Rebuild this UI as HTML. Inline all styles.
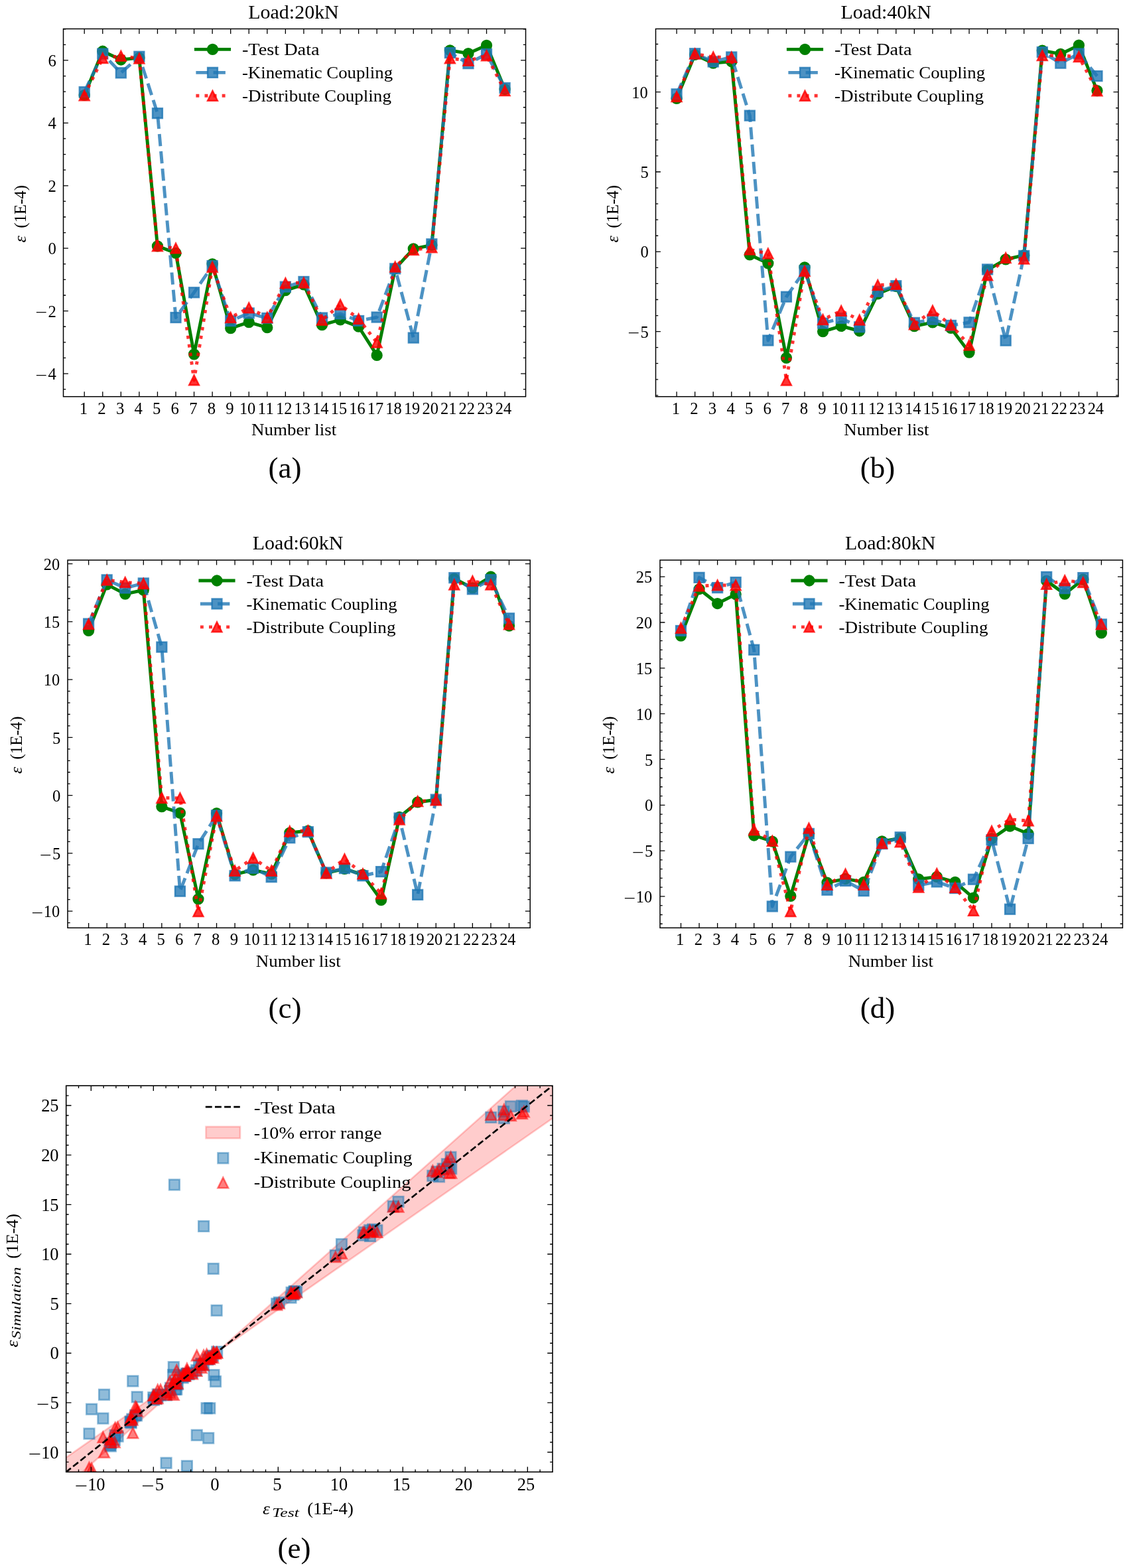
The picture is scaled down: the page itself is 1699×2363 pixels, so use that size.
<!DOCTYPE html>
<html lang="en">
<head>
<meta charset="utf-8">
<title>Strain comparison: test data vs kinematic and distribute coupling</title>
<style>html,body{margin:0;padding:0;background:#fff}body{width:1699px;height:2363px;overflow:hidden}svg{display:block}text{white-space:pre}</style>
</head>
<body>
<svg width="1699" height="2363" viewBox="0 0 1699 2363" font-family='"Liberation Serif", "DejaVu Serif", serif' font-size="24.7">
<rect width="1699" height="2363" fill="#fff"/>
<g id="chart-a">
<clipPath id="clip-a"><rect x="95.5" y="43.5" width="697" height="554.2"/></clipPath>
<g clip-path="url(#clip-a)">
<path d="M127.2 143.34L154.76 77.25L182.32 90L209.88 87.16L237.44 370.9L265 381.28L292.56 533.77L320.12 397.81L347.68 494.59L375.24 485.62L402.8 493.64L430.36 437.7L457.92 428.96L485.48 489.63L513.04 481.84L540.6 492.23L568.16 535.42L595.72 404.89L623.28 374.91L650.84 369.48L678.4 75.83L705.96 80.55L733.52 68.28L761.08 134.37" fill="none" stroke="#008000" stroke-width="4.94" stroke-linejoin="round" stroke-linecap="square"/>
<circle cx="127.2" cy="143.34" r="7.4" fill="#008000" stroke="#008000" stroke-width="2.47"/>
<circle cx="154.76" cy="77.25" r="7.4" fill="#008000" stroke="#008000" stroke-width="2.47"/>
<circle cx="182.32" cy="90" r="7.4" fill="#008000" stroke="#008000" stroke-width="2.47"/>
<circle cx="209.88" cy="87.16" r="7.4" fill="#008000" stroke="#008000" stroke-width="2.47"/>
<circle cx="237.44" cy="370.9" r="7.4" fill="#008000" stroke="#008000" stroke-width="2.47"/>
<circle cx="265" cy="381.28" r="7.4" fill="#008000" stroke="#008000" stroke-width="2.47"/>
<circle cx="292.56" cy="533.77" r="7.4" fill="#008000" stroke="#008000" stroke-width="2.47"/>
<circle cx="320.12" cy="397.81" r="7.4" fill="#008000" stroke="#008000" stroke-width="2.47"/>
<circle cx="347.68" cy="494.59" r="7.4" fill="#008000" stroke="#008000" stroke-width="2.47"/>
<circle cx="375.24" cy="485.62" r="7.4" fill="#008000" stroke="#008000" stroke-width="2.47"/>
<circle cx="402.8" cy="493.64" r="7.4" fill="#008000" stroke="#008000" stroke-width="2.47"/>
<circle cx="430.36" cy="437.7" r="7.4" fill="#008000" stroke="#008000" stroke-width="2.47"/>
<circle cx="457.92" cy="428.96" r="7.4" fill="#008000" stroke="#008000" stroke-width="2.47"/>
<circle cx="485.48" cy="489.63" r="7.4" fill="#008000" stroke="#008000" stroke-width="2.47"/>
<circle cx="513.04" cy="481.84" r="7.4" fill="#008000" stroke="#008000" stroke-width="2.47"/>
<circle cx="540.6" cy="492.23" r="7.4" fill="#008000" stroke="#008000" stroke-width="2.47"/>
<circle cx="568.16" cy="535.42" r="7.4" fill="#008000" stroke="#008000" stroke-width="2.47"/>
<circle cx="595.72" cy="404.89" r="7.4" fill="#008000" stroke="#008000" stroke-width="2.47"/>
<circle cx="623.28" cy="374.91" r="7.4" fill="#008000" stroke="#008000" stroke-width="2.47"/>
<circle cx="650.84" cy="369.48" r="7.4" fill="#008000" stroke="#008000" stroke-width="2.47"/>
<circle cx="678.4" cy="75.83" r="7.4" fill="#008000" stroke="#008000" stroke-width="2.47"/>
<circle cx="705.96" cy="80.55" r="7.4" fill="#008000" stroke="#008000" stroke-width="2.47"/>
<circle cx="733.52" cy="68.28" r="7.4" fill="#008000" stroke="#008000" stroke-width="2.47"/>
<circle cx="761.08" cy="134.37" r="7.4" fill="#008000" stroke="#008000" stroke-width="2.47"/>
<path d="M127.2 138.62L154.76 81.03L182.32 109.82L209.88 85.27L237.44 170.72L265 478.53L292.56 440.77L320.12 400.64L347.68 483.73L375.24 471.92L402.8 479.48L430.36 432.27L457.92 424.48L485.48 479.01L513.04 472.87L540.6 483.49L568.16 478.06L595.72 404.89L623.28 509.08L650.84 367.83L678.4 79.61L705.96 95.66L733.52 81.5L761.08 132.48" fill="none" stroke="#1f77b4" stroke-width="4.94" stroke-linejoin="round" stroke-dasharray="18.28 7.9" stroke-opacity="0.8"/>
<rect x="119.8" y="131.22" width="14.8" height="14.8" fill="#1f77b4" stroke="#1f77b4" stroke-width="2.47" fill-opacity="0.8" stroke-opacity="0.8"/>
<rect x="147.36" y="73.63" width="14.8" height="14.8" fill="#1f77b4" stroke="#1f77b4" stroke-width="2.47" fill-opacity="0.8" stroke-opacity="0.8"/>
<rect x="174.92" y="102.42" width="14.8" height="14.8" fill="#1f77b4" stroke="#1f77b4" stroke-width="2.47" fill-opacity="0.8" stroke-opacity="0.8"/>
<rect x="202.48" y="77.87" width="14.8" height="14.8" fill="#1f77b4" stroke="#1f77b4" stroke-width="2.47" fill-opacity="0.8" stroke-opacity="0.8"/>
<rect x="230.04" y="163.32" width="14.8" height="14.8" fill="#1f77b4" stroke="#1f77b4" stroke-width="2.47" fill-opacity="0.8" stroke-opacity="0.8"/>
<rect x="257.6" y="471.13" width="14.8" height="14.8" fill="#1f77b4" stroke="#1f77b4" stroke-width="2.47" fill-opacity="0.8" stroke-opacity="0.8"/>
<rect x="285.16" y="433.37" width="14.8" height="14.8" fill="#1f77b4" stroke="#1f77b4" stroke-width="2.47" fill-opacity="0.8" stroke-opacity="0.8"/>
<rect x="312.72" y="393.24" width="14.8" height="14.8" fill="#1f77b4" stroke="#1f77b4" stroke-width="2.47" fill-opacity="0.8" stroke-opacity="0.8"/>
<rect x="340.28" y="476.33" width="14.8" height="14.8" fill="#1f77b4" stroke="#1f77b4" stroke-width="2.47" fill-opacity="0.8" stroke-opacity="0.8"/>
<rect x="367.84" y="464.52" width="14.8" height="14.8" fill="#1f77b4" stroke="#1f77b4" stroke-width="2.47" fill-opacity="0.8" stroke-opacity="0.8"/>
<rect x="395.4" y="472.08" width="14.8" height="14.8" fill="#1f77b4" stroke="#1f77b4" stroke-width="2.47" fill-opacity="0.8" stroke-opacity="0.8"/>
<rect x="422.96" y="424.87" width="14.8" height="14.8" fill="#1f77b4" stroke="#1f77b4" stroke-width="2.47" fill-opacity="0.8" stroke-opacity="0.8"/>
<rect x="450.52" y="417.08" width="14.8" height="14.8" fill="#1f77b4" stroke="#1f77b4" stroke-width="2.47" fill-opacity="0.8" stroke-opacity="0.8"/>
<rect x="478.08" y="471.61" width="14.8" height="14.8" fill="#1f77b4" stroke="#1f77b4" stroke-width="2.47" fill-opacity="0.8" stroke-opacity="0.8"/>
<rect x="505.64" y="465.47" width="14.8" height="14.8" fill="#1f77b4" stroke="#1f77b4" stroke-width="2.47" fill-opacity="0.8" stroke-opacity="0.8"/>
<rect x="533.2" y="476.09" width="14.8" height="14.8" fill="#1f77b4" stroke="#1f77b4" stroke-width="2.47" fill-opacity="0.8" stroke-opacity="0.8"/>
<rect x="560.76" y="470.66" width="14.8" height="14.8" fill="#1f77b4" stroke="#1f77b4" stroke-width="2.47" fill-opacity="0.8" stroke-opacity="0.8"/>
<rect x="588.32" y="397.49" width="14.8" height="14.8" fill="#1f77b4" stroke="#1f77b4" stroke-width="2.47" fill-opacity="0.8" stroke-opacity="0.8"/>
<rect x="615.88" y="501.68" width="14.8" height="14.8" fill="#1f77b4" stroke="#1f77b4" stroke-width="2.47" fill-opacity="0.8" stroke-opacity="0.8"/>
<rect x="643.44" y="360.43" width="14.8" height="14.8" fill="#1f77b4" stroke="#1f77b4" stroke-width="2.47" fill-opacity="0.8" stroke-opacity="0.8"/>
<rect x="671" y="72.21" width="14.8" height="14.8" fill="#1f77b4" stroke="#1f77b4" stroke-width="2.47" fill-opacity="0.8" stroke-opacity="0.8"/>
<rect x="698.56" y="88.26" width="14.8" height="14.8" fill="#1f77b4" stroke="#1f77b4" stroke-width="2.47" fill-opacity="0.8" stroke-opacity="0.8"/>
<rect x="726.12" y="74.1" width="14.8" height="14.8" fill="#1f77b4" stroke="#1f77b4" stroke-width="2.47" fill-opacity="0.8" stroke-opacity="0.8"/>
<rect x="753.68" y="125.08" width="14.8" height="14.8" fill="#1f77b4" stroke="#1f77b4" stroke-width="2.47" fill-opacity="0.8" stroke-opacity="0.8"/>
<path d="M127.2 143.82L154.76 87.64L182.32 84.33L209.88 88.11L237.44 370.9L265 374.2L292.56 572.95L320.12 402.53L347.68 478.53L375.24 463.9L402.8 478.53L430.36 426.6L457.92 426.13L485.48 482.31L513.04 459.18L540.6 480.66L568.16 516.07L595.72 402.05L623.28 376.56L650.84 372.78L678.4 87.87L705.96 91.41L733.52 83.86L761.08 136.73" fill="none" stroke="#ff0000" stroke-width="4.94" stroke-linejoin="round" stroke-dasharray="4.94 8.15" stroke-opacity="0.8"/>
<path d="M127.2 136.42L119.8 151.22L134.6 151.22Z" fill="#ff0000" stroke="#ff0000" stroke-width="2.47" fill-opacity="0.8" stroke-opacity="0.8"/>
<path d="M154.76 80.24L147.36 95.04L162.16 95.04Z" fill="#ff0000" stroke="#ff0000" stroke-width="2.47" fill-opacity="0.8" stroke-opacity="0.8"/>
<path d="M182.32 76.93L174.92 91.73L189.72 91.73Z" fill="#ff0000" stroke="#ff0000" stroke-width="2.47" fill-opacity="0.8" stroke-opacity="0.8"/>
<path d="M209.88 80.71L202.48 95.51L217.28 95.51Z" fill="#ff0000" stroke="#ff0000" stroke-width="2.47" fill-opacity="0.8" stroke-opacity="0.8"/>
<path d="M237.44 363.5L230.04 378.3L244.84 378.3Z" fill="#ff0000" stroke="#ff0000" stroke-width="2.47" fill-opacity="0.8" stroke-opacity="0.8"/>
<path d="M265 366.8L257.6 381.6L272.4 381.6Z" fill="#ff0000" stroke="#ff0000" stroke-width="2.47" fill-opacity="0.8" stroke-opacity="0.8"/>
<path d="M292.56 565.55L285.16 580.35L299.96 580.35Z" fill="#ff0000" stroke="#ff0000" stroke-width="2.47" fill-opacity="0.8" stroke-opacity="0.8"/>
<path d="M320.12 395.13L312.72 409.93L327.52 409.93Z" fill="#ff0000" stroke="#ff0000" stroke-width="2.47" fill-opacity="0.8" stroke-opacity="0.8"/>
<path d="M347.68 471.13L340.28 485.93L355.08 485.93Z" fill="#ff0000" stroke="#ff0000" stroke-width="2.47" fill-opacity="0.8" stroke-opacity="0.8"/>
<path d="M375.24 456.5L367.84 471.3L382.64 471.3Z" fill="#ff0000" stroke="#ff0000" stroke-width="2.47" fill-opacity="0.8" stroke-opacity="0.8"/>
<path d="M402.8 471.13L395.4 485.93L410.2 485.93Z" fill="#ff0000" stroke="#ff0000" stroke-width="2.47" fill-opacity="0.8" stroke-opacity="0.8"/>
<path d="M430.36 419.2L422.96 434L437.76 434Z" fill="#ff0000" stroke="#ff0000" stroke-width="2.47" fill-opacity="0.8" stroke-opacity="0.8"/>
<path d="M457.92 418.73L450.52 433.53L465.32 433.53Z" fill="#ff0000" stroke="#ff0000" stroke-width="2.47" fill-opacity="0.8" stroke-opacity="0.8"/>
<path d="M485.48 474.91L478.08 489.71L492.88 489.71Z" fill="#ff0000" stroke="#ff0000" stroke-width="2.47" fill-opacity="0.8" stroke-opacity="0.8"/>
<path d="M513.04 451.78L505.64 466.58L520.44 466.58Z" fill="#ff0000" stroke="#ff0000" stroke-width="2.47" fill-opacity="0.8" stroke-opacity="0.8"/>
<path d="M540.6 473.26L533.2 488.06L548 488.06Z" fill="#ff0000" stroke="#ff0000" stroke-width="2.47" fill-opacity="0.8" stroke-opacity="0.8"/>
<path d="M568.16 508.67L560.76 523.47L575.56 523.47Z" fill="#ff0000" stroke="#ff0000" stroke-width="2.47" fill-opacity="0.8" stroke-opacity="0.8"/>
<path d="M595.72 394.65L588.32 409.45L603.12 409.45Z" fill="#ff0000" stroke="#ff0000" stroke-width="2.47" fill-opacity="0.8" stroke-opacity="0.8"/>
<path d="M623.28 369.16L615.88 383.96L630.68 383.96Z" fill="#ff0000" stroke="#ff0000" stroke-width="2.47" fill-opacity="0.8" stroke-opacity="0.8"/>
<path d="M650.84 365.38L643.44 380.18L658.24 380.18Z" fill="#ff0000" stroke="#ff0000" stroke-width="2.47" fill-opacity="0.8" stroke-opacity="0.8"/>
<path d="M678.4 80.47L671 95.27L685.8 95.27Z" fill="#ff0000" stroke="#ff0000" stroke-width="2.47" fill-opacity="0.8" stroke-opacity="0.8"/>
<path d="M705.96 84.01L698.56 98.81L713.36 98.81Z" fill="#ff0000" stroke="#ff0000" stroke-width="2.47" fill-opacity="0.8" stroke-opacity="0.8"/>
<path d="M733.52 76.46L726.12 91.26L740.92 91.26Z" fill="#ff0000" stroke="#ff0000" stroke-width="2.47" fill-opacity="0.8" stroke-opacity="0.8"/>
<path d="M761.08 129.33L753.68 144.13L768.48 144.13Z" fill="#ff0000" stroke="#ff0000" stroke-width="2.47" fill-opacity="0.8" stroke-opacity="0.8"/>
</g>
<path d="M127.2 597.7v-7.4M127.2 43.5v7.4M154.76 597.7v-7.4M154.76 43.5v7.4M182.32 597.7v-7.4M182.32 43.5v7.4M209.88 597.7v-7.4M209.88 43.5v7.4M237.44 597.7v-7.4M237.44 43.5v7.4M265 597.7v-7.4M265 43.5v7.4M292.56 597.7v-7.4M292.56 43.5v7.4M320.12 597.7v-7.4M320.12 43.5v7.4M347.68 597.7v-7.4M347.68 43.5v7.4M375.24 597.7v-7.4M375.24 43.5v7.4M402.8 597.7v-7.4M402.8 43.5v7.4M430.36 597.7v-7.4M430.36 43.5v7.4M457.92 597.7v-7.4M457.92 43.5v7.4M485.48 597.7v-7.4M485.48 43.5v7.4M513.04 597.7v-7.4M513.04 43.5v7.4M540.6 597.7v-7.4M540.6 43.5v7.4M568.16 597.7v-7.4M568.16 43.5v7.4M595.72 597.7v-7.4M595.72 43.5v7.4M623.28 597.7v-7.4M623.28 43.5v7.4M650.84 597.7v-7.4M650.84 43.5v7.4M678.4 597.7v-7.4M678.4 43.5v7.4M705.96 597.7v-7.4M705.96 43.5v7.4M733.52 597.7v-7.4M733.52 43.5v7.4M761.08 597.7v-7.4M761.08 43.5v7.4M95.5 563.04h7.4M792.5 563.04h-7.4M95.5 468.62h7.4M792.5 468.62h-7.4M95.5 374.2h7.4M792.5 374.2h-7.4M95.5 279.78h7.4M792.5 279.78h-7.4M95.5 185.36h7.4M792.5 185.36h-7.4M95.5 90.94h7.4M792.5 90.94h-7.4M95.5 586.64h3.7M792.5 586.64h-3.7M95.5 539.43h3.7M792.5 539.43h-3.7M95.5 515.83h3.7M792.5 515.83h-3.7M95.5 492.23h3.7M792.5 492.23h-3.7M95.5 445.01h3.7M792.5 445.01h-3.7M95.5 421.41h3.7M792.5 421.41h-3.7M95.5 397.81h3.7M792.5 397.81h-3.7M95.5 350.59h3.7M792.5 350.59h-3.7M95.5 326.99h3.7M792.5 326.99h-3.7M95.5 303.38h3.7M792.5 303.38h-3.7M95.5 256.17h3.7M792.5 256.17h-3.7M95.5 232.57h3.7M792.5 232.57h-3.7M95.5 208.96h3.7M792.5 208.96h-3.7M95.5 161.75h3.7M792.5 161.75h-3.7M95.5 138.15h3.7M792.5 138.15h-3.7M95.5 114.54h3.7M792.5 114.54h-3.7M95.5 67.33h3.7M792.5 67.33h-3.7M95.5 43.73h3.7M792.5 43.73h-3.7" stroke="#000" stroke-width="1.3" fill="none"/>
<rect x="95.5" y="43.5" width="697" height="554.2" fill="none" stroke="#000" stroke-width="1.5"/>
<text><tspan x="119.83" y="623.7" textLength="12.35" lengthAdjust="spacingAndGlyphs">1</tspan></text>
<text><tspan x="147.39" y="623.7" textLength="12.35" lengthAdjust="spacingAndGlyphs">2</tspan></text>
<text><tspan x="174.95" y="623.7" textLength="12.35" lengthAdjust="spacingAndGlyphs">3</tspan></text>
<text><tspan x="202.51" y="623.7" textLength="12.35" lengthAdjust="spacingAndGlyphs">4</tspan></text>
<text><tspan x="230.07" y="623.7" textLength="12.35" lengthAdjust="spacingAndGlyphs">5</tspan></text>
<text><tspan x="257.62" y="623.7" textLength="12.35" lengthAdjust="spacingAndGlyphs">6</tspan></text>
<text><tspan x="285.18" y="623.7" textLength="12.35" lengthAdjust="spacingAndGlyphs">7</tspan></text>
<text><tspan x="312.74" y="623.7" textLength="12.35" lengthAdjust="spacingAndGlyphs">8</tspan></text>
<text><tspan x="340.3" y="623.7" textLength="12.35" lengthAdjust="spacingAndGlyphs">9</tspan></text>
<text><tspan x="360.89" y="623.7" textLength="24.4" lengthAdjust="spacingAndGlyphs">10</tspan></text>
<text><tspan x="388.45" y="623.7" textLength="24.4" lengthAdjust="spacingAndGlyphs">11</tspan></text>
<text><tspan x="416.01" y="623.7" textLength="24.4" lengthAdjust="spacingAndGlyphs">12</tspan></text>
<text><tspan x="443.57" y="623.7" textLength="24.4" lengthAdjust="spacingAndGlyphs">13</tspan></text>
<text><tspan x="471.13" y="623.7" textLength="24.4" lengthAdjust="spacingAndGlyphs">14</tspan></text>
<text><tspan x="498.69" y="623.7" textLength="24.4" lengthAdjust="spacingAndGlyphs">15</tspan></text>
<text><tspan x="526.25" y="623.7" textLength="24.4" lengthAdjust="spacingAndGlyphs">16</tspan></text>
<text><tspan x="553.81" y="623.7" textLength="24.4" lengthAdjust="spacingAndGlyphs">17</tspan></text>
<text><tspan x="581.37" y="623.7" textLength="24.4" lengthAdjust="spacingAndGlyphs">18</tspan></text>
<text><tspan x="608.93" y="623.7" textLength="24.4" lengthAdjust="spacingAndGlyphs">19</tspan></text>
<text><tspan x="636.49" y="623.7" textLength="24.4" lengthAdjust="spacingAndGlyphs">20</tspan></text>
<text><tspan x="664.05" y="623.7" textLength="24.4" lengthAdjust="spacingAndGlyphs">21</tspan></text>
<text><tspan x="691.61" y="623.7" textLength="24.4" lengthAdjust="spacingAndGlyphs">22</tspan></text>
<text><tspan x="719.17" y="623.7" textLength="24.4" lengthAdjust="spacingAndGlyphs">23</tspan></text>
<text><tspan x="746.73" y="623.7" textLength="24.4" lengthAdjust="spacingAndGlyphs">24</tspan></text>
<text><tspan x="53.45" y="573.89" textLength="17.9" lengthAdjust="spacingAndGlyphs">−</tspan><tspan x="72.45" y="572.14" textLength="12.35" lengthAdjust="spacingAndGlyphs">4</tspan></text>
<text><tspan x="53.45" y="479.47" textLength="17.9" lengthAdjust="spacingAndGlyphs">−</tspan><tspan x="72.45" y="477.72" textLength="12.35" lengthAdjust="spacingAndGlyphs">2</tspan></text>
<text><tspan x="72.45" y="383.3" textLength="12.35" lengthAdjust="spacingAndGlyphs">0</tspan></text>
<text><tspan x="72.45" y="288.88" textLength="12.35" lengthAdjust="spacingAndGlyphs">2</tspan></text>
<text><tspan x="72.45" y="194.46" textLength="12.35" lengthAdjust="spacingAndGlyphs">4</tspan></text>
<text><tspan x="72.45" y="100.04" textLength="12.35" lengthAdjust="spacingAndGlyphs">6</tspan></text>
<text x="379.1" y="656.1" textLength="128.2" lengthAdjust="spacingAndGlyphs">Number list</text>
<g transform="translate(38.6 365.45) rotate(-90)">
<text><tspan x="0" y="0" textLength="10.2" lengthAdjust="spacingAndGlyphs" font-style="italic">ε</tspan><tspan x="15.4" y="0" textLength="71.1" lengthAdjust="spacingAndGlyphs"> (1E-4)</tspan></text>
</g>
<text x="374.2" y="27.7" font-size="29" textLength="136.6" lengthAdjust="spacingAndGlyphs">Load:20kN</text>
<path d="M295.4 74.4L345.6 74.4" fill="none" stroke="#008000" stroke-width="4.94" stroke-linejoin="round" stroke-linecap="square"/>
<circle cx="320.5" cy="74.4" r="7.4" fill="#008000" stroke="#008000" stroke-width="2.47"/>
<text x="364.9" y="83.4" textLength="116.7" lengthAdjust="spacingAndGlyphs">-Test Data</text>
<path d="M295.4 109.35L345.6 109.35" fill="none" stroke="#1f77b4" stroke-width="4.94" stroke-linejoin="round" stroke-dasharray="18.28 7.9" stroke-opacity="0.8"/>
<rect x="313.1" y="101.95" width="14.8" height="14.8" fill="#1f77b4" stroke="#1f77b4" stroke-width="2.47" fill-opacity="0.8" stroke-opacity="0.8"/>
<text x="364.9" y="118.35" textLength="227.2" lengthAdjust="spacingAndGlyphs">-Kinematic Coupling</text>
<path d="M295.4 144.3L345.6 144.3" fill="none" stroke="#ff0000" stroke-width="4.94" stroke-linejoin="round" stroke-dasharray="4.94 8.15" stroke-opacity="0.8"/>
<path d="M320.5 136.9L313.1 151.7L327.9 151.7Z" fill="#ff0000" stroke="#ff0000" stroke-width="2.47" fill-opacity="0.8" stroke-opacity="0.8"/>
<text x="364.9" y="153.3" textLength="225.1" lengthAdjust="spacingAndGlyphs">-Distribute Coupling</text>
<text x="429.4" y="720.2" font-size="45" text-anchor="middle" class="cap">(a)</text>
</g>
<g id="chart-b">
<clipPath id="clip-b"><rect x="988.5" y="43.5" width="697.4" height="554.2"/></clipPath>
<g clip-path="url(#clip-b)">
<path d="M1020.1 148.32L1047.66 82.4L1075.22 95.15L1102.78 92.75L1130.34 383.99L1157.9 396.86L1185.46 539.3L1213.02 402.88L1240.58 499.6L1268.14 491.42L1295.7 498.76L1323.26 442.82L1350.82 431.51L1378.38 491.66L1405.94 485.89L1433.5 494.31L1461.06 531.12L1488.62 406.97L1516.18 390.85L1543.74 384.71L1571.3 76.14L1598.86 81.44L1626.42 68.2L1653.98 136.53" fill="none" stroke="#008000" stroke-width="4.94" stroke-linejoin="round" stroke-linecap="square"/>
<circle cx="1020.1" cy="148.32" r="7.4" fill="#008000" stroke="#008000" stroke-width="2.47"/>
<circle cx="1047.66" cy="82.4" r="7.4" fill="#008000" stroke="#008000" stroke-width="2.47"/>
<circle cx="1075.22" cy="95.15" r="7.4" fill="#008000" stroke="#008000" stroke-width="2.47"/>
<circle cx="1102.78" cy="92.75" r="7.4" fill="#008000" stroke="#008000" stroke-width="2.47"/>
<circle cx="1130.34" cy="383.99" r="7.4" fill="#008000" stroke="#008000" stroke-width="2.47"/>
<circle cx="1157.9" cy="396.86" r="7.4" fill="#008000" stroke="#008000" stroke-width="2.47"/>
<circle cx="1185.46" cy="539.3" r="7.4" fill="#008000" stroke="#008000" stroke-width="2.47"/>
<circle cx="1213.02" cy="402.88" r="7.4" fill="#008000" stroke="#008000" stroke-width="2.47"/>
<circle cx="1240.58" cy="499.6" r="7.4" fill="#008000" stroke="#008000" stroke-width="2.47"/>
<circle cx="1268.14" cy="491.42" r="7.4" fill="#008000" stroke="#008000" stroke-width="2.47"/>
<circle cx="1295.7" cy="498.76" r="7.4" fill="#008000" stroke="#008000" stroke-width="2.47"/>
<circle cx="1323.26" cy="442.82" r="7.4" fill="#008000" stroke="#008000" stroke-width="2.47"/>
<circle cx="1350.82" cy="431.51" r="7.4" fill="#008000" stroke="#008000" stroke-width="2.47"/>
<circle cx="1378.38" cy="491.66" r="7.4" fill="#008000" stroke="#008000" stroke-width="2.47"/>
<circle cx="1405.94" cy="485.89" r="7.4" fill="#008000" stroke="#008000" stroke-width="2.47"/>
<circle cx="1433.5" cy="494.31" r="7.4" fill="#008000" stroke="#008000" stroke-width="2.47"/>
<circle cx="1461.06" cy="531.12" r="7.4" fill="#008000" stroke="#008000" stroke-width="2.47"/>
<circle cx="1488.62" cy="406.97" r="7.4" fill="#008000" stroke="#008000" stroke-width="2.47"/>
<circle cx="1516.18" cy="390.85" r="7.4" fill="#008000" stroke="#008000" stroke-width="2.47"/>
<circle cx="1543.74" cy="384.71" r="7.4" fill="#008000" stroke="#008000" stroke-width="2.47"/>
<circle cx="1571.3" cy="76.14" r="7.4" fill="#008000" stroke="#008000" stroke-width="2.47"/>
<circle cx="1598.86" cy="81.44" r="7.4" fill="#008000" stroke="#008000" stroke-width="2.47"/>
<circle cx="1626.42" cy="68.2" r="7.4" fill="#008000" stroke="#008000" stroke-width="2.47"/>
<circle cx="1653.98" cy="136.53" r="7.4" fill="#008000" stroke="#008000" stroke-width="2.47"/>
<path d="M1020.1 141.83L1047.66 80.72L1075.22 92.99L1102.78 86.01L1130.34 174.19L1157.9 513.07L1185.46 447.27L1213.02 407.93L1240.58 487.09L1268.14 479.63L1295.7 492.86L1323.26 439.21L1350.82 430.79L1378.38 486.37L1405.94 481.31L1433.5 490.46L1461.06 485.89L1488.62 406.01L1516.18 513.19L1543.74 385.44L1571.3 78.55L1598.86 95.15L1626.42 80.96L1653.98 114.64" fill="none" stroke="#1f77b4" stroke-width="4.94" stroke-linejoin="round" stroke-dasharray="18.28 7.9" stroke-opacity="0.8"/>
<rect x="1012.7" y="134.43" width="14.8" height="14.8" fill="#1f77b4" stroke="#1f77b4" stroke-width="2.47" fill-opacity="0.8" stroke-opacity="0.8"/>
<rect x="1040.26" y="73.32" width="14.8" height="14.8" fill="#1f77b4" stroke="#1f77b4" stroke-width="2.47" fill-opacity="0.8" stroke-opacity="0.8"/>
<rect x="1067.82" y="85.59" width="14.8" height="14.8" fill="#1f77b4" stroke="#1f77b4" stroke-width="2.47" fill-opacity="0.8" stroke-opacity="0.8"/>
<rect x="1095.38" y="78.61" width="14.8" height="14.8" fill="#1f77b4" stroke="#1f77b4" stroke-width="2.47" fill-opacity="0.8" stroke-opacity="0.8"/>
<rect x="1122.94" y="166.79" width="14.8" height="14.8" fill="#1f77b4" stroke="#1f77b4" stroke-width="2.47" fill-opacity="0.8" stroke-opacity="0.8"/>
<rect x="1150.5" y="505.67" width="14.8" height="14.8" fill="#1f77b4" stroke="#1f77b4" stroke-width="2.47" fill-opacity="0.8" stroke-opacity="0.8"/>
<rect x="1178.06" y="439.87" width="14.8" height="14.8" fill="#1f77b4" stroke="#1f77b4" stroke-width="2.47" fill-opacity="0.8" stroke-opacity="0.8"/>
<rect x="1205.62" y="400.53" width="14.8" height="14.8" fill="#1f77b4" stroke="#1f77b4" stroke-width="2.47" fill-opacity="0.8" stroke-opacity="0.8"/>
<rect x="1233.18" y="479.69" width="14.8" height="14.8" fill="#1f77b4" stroke="#1f77b4" stroke-width="2.47" fill-opacity="0.8" stroke-opacity="0.8"/>
<rect x="1260.74" y="472.23" width="14.8" height="14.8" fill="#1f77b4" stroke="#1f77b4" stroke-width="2.47" fill-opacity="0.8" stroke-opacity="0.8"/>
<rect x="1288.3" y="485.46" width="14.8" height="14.8" fill="#1f77b4" stroke="#1f77b4" stroke-width="2.47" fill-opacity="0.8" stroke-opacity="0.8"/>
<rect x="1315.86" y="431.81" width="14.8" height="14.8" fill="#1f77b4" stroke="#1f77b4" stroke-width="2.47" fill-opacity="0.8" stroke-opacity="0.8"/>
<rect x="1343.42" y="423.39" width="14.8" height="14.8" fill="#1f77b4" stroke="#1f77b4" stroke-width="2.47" fill-opacity="0.8" stroke-opacity="0.8"/>
<rect x="1370.98" y="478.97" width="14.8" height="14.8" fill="#1f77b4" stroke="#1f77b4" stroke-width="2.47" fill-opacity="0.8" stroke-opacity="0.8"/>
<rect x="1398.54" y="473.91" width="14.8" height="14.8" fill="#1f77b4" stroke="#1f77b4" stroke-width="2.47" fill-opacity="0.8" stroke-opacity="0.8"/>
<rect x="1426.1" y="483.06" width="14.8" height="14.8" fill="#1f77b4" stroke="#1f77b4" stroke-width="2.47" fill-opacity="0.8" stroke-opacity="0.8"/>
<rect x="1453.66" y="478.49" width="14.8" height="14.8" fill="#1f77b4" stroke="#1f77b4" stroke-width="2.47" fill-opacity="0.8" stroke-opacity="0.8"/>
<rect x="1481.22" y="398.61" width="14.8" height="14.8" fill="#1f77b4" stroke="#1f77b4" stroke-width="2.47" fill-opacity="0.8" stroke-opacity="0.8"/>
<rect x="1508.78" y="505.79" width="14.8" height="14.8" fill="#1f77b4" stroke="#1f77b4" stroke-width="2.47" fill-opacity="0.8" stroke-opacity="0.8"/>
<rect x="1536.34" y="378.04" width="14.8" height="14.8" fill="#1f77b4" stroke="#1f77b4" stroke-width="2.47" fill-opacity="0.8" stroke-opacity="0.8"/>
<rect x="1563.9" y="71.15" width="14.8" height="14.8" fill="#1f77b4" stroke="#1f77b4" stroke-width="2.47" fill-opacity="0.8" stroke-opacity="0.8"/>
<rect x="1591.46" y="87.75" width="14.8" height="14.8" fill="#1f77b4" stroke="#1f77b4" stroke-width="2.47" fill-opacity="0.8" stroke-opacity="0.8"/>
<rect x="1619.02" y="73.56" width="14.8" height="14.8" fill="#1f77b4" stroke="#1f77b4" stroke-width="2.47" fill-opacity="0.8" stroke-opacity="0.8"/>
<rect x="1646.58" y="107.24" width="14.8" height="14.8" fill="#1f77b4" stroke="#1f77b4" stroke-width="2.47" fill-opacity="0.8" stroke-opacity="0.8"/>
<path d="M1020.1 145.68L1047.66 81.2L1075.22 86.01L1102.78 86.25L1130.34 376.17L1157.9 382.07L1185.46 573.1L1213.02 408.65L1240.58 481.56L1268.14 468.44L1295.7 482.16L1323.26 429.59L1350.82 428.38L1378.38 488.89L1405.94 468.08L1433.5 489.74L1461.06 520.05L1488.62 414.91L1516.18 388.68L1543.74 390.01L1571.3 83.6L1598.86 83.6L1626.42 85.53L1653.98 136.9" fill="none" stroke="#ff0000" stroke-width="4.94" stroke-linejoin="round" stroke-dasharray="4.94 8.15" stroke-opacity="0.8"/>
<path d="M1020.1 138.28L1012.7 153.08L1027.5 153.08Z" fill="#ff0000" stroke="#ff0000" stroke-width="2.47" fill-opacity="0.8" stroke-opacity="0.8"/>
<path d="M1047.66 73.8L1040.26 88.6L1055.06 88.6Z" fill="#ff0000" stroke="#ff0000" stroke-width="2.47" fill-opacity="0.8" stroke-opacity="0.8"/>
<path d="M1075.22 78.61L1067.82 93.41L1082.62 93.41Z" fill="#ff0000" stroke="#ff0000" stroke-width="2.47" fill-opacity="0.8" stroke-opacity="0.8"/>
<path d="M1102.78 78.85L1095.38 93.65L1110.18 93.65Z" fill="#ff0000" stroke="#ff0000" stroke-width="2.47" fill-opacity="0.8" stroke-opacity="0.8"/>
<path d="M1130.34 368.77L1122.94 383.57L1137.74 383.57Z" fill="#ff0000" stroke="#ff0000" stroke-width="2.47" fill-opacity="0.8" stroke-opacity="0.8"/>
<path d="M1157.9 374.67L1150.5 389.47L1165.3 389.47Z" fill="#ff0000" stroke="#ff0000" stroke-width="2.47" fill-opacity="0.8" stroke-opacity="0.8"/>
<path d="M1185.46 565.7L1178.06 580.5L1192.86 580.5Z" fill="#ff0000" stroke="#ff0000" stroke-width="2.47" fill-opacity="0.8" stroke-opacity="0.8"/>
<path d="M1213.02 401.25L1205.62 416.05L1220.42 416.05Z" fill="#ff0000" stroke="#ff0000" stroke-width="2.47" fill-opacity="0.8" stroke-opacity="0.8"/>
<path d="M1240.58 474.16L1233.18 488.95L1247.98 488.95Z" fill="#ff0000" stroke="#ff0000" stroke-width="2.47" fill-opacity="0.8" stroke-opacity="0.8"/>
<path d="M1268.14 461.04L1260.74 475.84L1275.54 475.84Z" fill="#ff0000" stroke="#ff0000" stroke-width="2.47" fill-opacity="0.8" stroke-opacity="0.8"/>
<path d="M1295.7 474.76L1288.3 489.56L1303.1 489.56Z" fill="#ff0000" stroke="#ff0000" stroke-width="2.47" fill-opacity="0.8" stroke-opacity="0.8"/>
<path d="M1323.26 422.19L1315.86 436.99L1330.66 436.99Z" fill="#ff0000" stroke="#ff0000" stroke-width="2.47" fill-opacity="0.8" stroke-opacity="0.8"/>
<path d="M1350.82 420.98L1343.42 435.78L1358.22 435.78Z" fill="#ff0000" stroke="#ff0000" stroke-width="2.47" fill-opacity="0.8" stroke-opacity="0.8"/>
<path d="M1378.38 481.49L1370.98 496.29L1385.78 496.29Z" fill="#ff0000" stroke="#ff0000" stroke-width="2.47" fill-opacity="0.8" stroke-opacity="0.8"/>
<path d="M1405.94 460.68L1398.54 475.48L1413.34 475.48Z" fill="#ff0000" stroke="#ff0000" stroke-width="2.47" fill-opacity="0.8" stroke-opacity="0.8"/>
<path d="M1433.5 482.34L1426.1 497.14L1440.9 497.14Z" fill="#ff0000" stroke="#ff0000" stroke-width="2.47" fill-opacity="0.8" stroke-opacity="0.8"/>
<path d="M1461.06 512.65L1453.66 527.45L1468.46 527.45Z" fill="#ff0000" stroke="#ff0000" stroke-width="2.47" fill-opacity="0.8" stroke-opacity="0.8"/>
<path d="M1488.62 407.51L1481.22 422.31L1496.02 422.31Z" fill="#ff0000" stroke="#ff0000" stroke-width="2.47" fill-opacity="0.8" stroke-opacity="0.8"/>
<path d="M1516.18 381.28L1508.78 396.08L1523.58 396.08Z" fill="#ff0000" stroke="#ff0000" stroke-width="2.47" fill-opacity="0.8" stroke-opacity="0.8"/>
<path d="M1543.74 382.61L1536.34 397.41L1551.14 397.41Z" fill="#ff0000" stroke="#ff0000" stroke-width="2.47" fill-opacity="0.8" stroke-opacity="0.8"/>
<path d="M1571.3 76.2L1563.9 91L1578.7 91Z" fill="#ff0000" stroke="#ff0000" stroke-width="2.47" fill-opacity="0.8" stroke-opacity="0.8"/>
<path d="M1598.86 76.2L1591.46 91L1606.26 91Z" fill="#ff0000" stroke="#ff0000" stroke-width="2.47" fill-opacity="0.8" stroke-opacity="0.8"/>
<path d="M1626.42 78.13L1619.02 92.93L1633.82 92.93Z" fill="#ff0000" stroke="#ff0000" stroke-width="2.47" fill-opacity="0.8" stroke-opacity="0.8"/>
<path d="M1653.98 129.5L1646.58 144.3L1661.38 144.3Z" fill="#ff0000" stroke="#ff0000" stroke-width="2.47" fill-opacity="0.8" stroke-opacity="0.8"/>
</g>
<path d="M1020.1 597.7v-7.4M1020.1 43.5v7.4M1047.66 597.7v-7.4M1047.66 43.5v7.4M1075.22 597.7v-7.4M1075.22 43.5v7.4M1102.78 597.7v-7.4M1102.78 43.5v7.4M1130.34 597.7v-7.4M1130.34 43.5v7.4M1157.9 597.7v-7.4M1157.9 43.5v7.4M1185.46 597.7v-7.4M1185.46 43.5v7.4M1213.02 597.7v-7.4M1213.02 43.5v7.4M1240.58 597.7v-7.4M1240.58 43.5v7.4M1268.14 597.7v-7.4M1268.14 43.5v7.4M1295.7 597.7v-7.4M1295.7 43.5v7.4M1323.26 597.7v-7.4M1323.26 43.5v7.4M1350.82 597.7v-7.4M1350.82 43.5v7.4M1378.38 597.7v-7.4M1378.38 43.5v7.4M1405.94 597.7v-7.4M1405.94 43.5v7.4M1433.5 597.7v-7.4M1433.5 43.5v7.4M1461.06 597.7v-7.4M1461.06 43.5v7.4M1488.62 597.7v-7.4M1488.62 43.5v7.4M1516.18 597.7v-7.4M1516.18 43.5v7.4M1543.74 597.7v-7.4M1543.74 43.5v7.4M1571.3 597.7v-7.4M1571.3 43.5v7.4M1598.86 597.7v-7.4M1598.86 43.5v7.4M1626.42 597.7v-7.4M1626.42 43.5v7.4M1653.98 597.7v-7.4M1653.98 43.5v7.4M988.5 499.6h7.4M1685.9 499.6h-7.4M988.5 379.3h7.4M1685.9 379.3h-7.4M988.5 259h7.4M1685.9 259h-7.4M988.5 138.7h7.4M1685.9 138.7h-7.4M988.5 595.84h3.7M1685.9 595.84h-3.7M988.5 571.78h3.7M1685.9 571.78h-3.7M988.5 547.72h3.7M1685.9 547.72h-3.7M988.5 523.66h3.7M1685.9 523.66h-3.7M988.5 475.54h3.7M1685.9 475.54h-3.7M988.5 451.48h3.7M1685.9 451.48h-3.7M988.5 427.42h3.7M1685.9 427.42h-3.7M988.5 403.36h3.7M1685.9 403.36h-3.7M988.5 355.24h3.7M1685.9 355.24h-3.7M988.5 331.18h3.7M1685.9 331.18h-3.7M988.5 307.12h3.7M1685.9 307.12h-3.7M988.5 283.06h3.7M1685.9 283.06h-3.7M988.5 234.94h3.7M1685.9 234.94h-3.7M988.5 210.88h3.7M1685.9 210.88h-3.7M988.5 186.82h3.7M1685.9 186.82h-3.7M988.5 162.76h3.7M1685.9 162.76h-3.7M988.5 114.64h3.7M1685.9 114.64h-3.7M988.5 90.58h3.7M1685.9 90.58h-3.7M988.5 66.52h3.7M1685.9 66.52h-3.7" stroke="#000" stroke-width="1.3" fill="none"/>
<rect x="988.5" y="43.5" width="697.4" height="554.2" fill="none" stroke="#000" stroke-width="1.5"/>
<text><tspan x="1012.73" y="623.7" textLength="12.35" lengthAdjust="spacingAndGlyphs">1</tspan></text>
<text><tspan x="1040.29" y="623.7" textLength="12.35" lengthAdjust="spacingAndGlyphs">2</tspan></text>
<text><tspan x="1067.85" y="623.7" textLength="12.35" lengthAdjust="spacingAndGlyphs">3</tspan></text>
<text><tspan x="1095.41" y="623.7" textLength="12.35" lengthAdjust="spacingAndGlyphs">4</tspan></text>
<text><tspan x="1122.97" y="623.7" textLength="12.35" lengthAdjust="spacingAndGlyphs">5</tspan></text>
<text><tspan x="1150.53" y="623.7" textLength="12.35" lengthAdjust="spacingAndGlyphs">6</tspan></text>
<text><tspan x="1178.09" y="623.7" textLength="12.35" lengthAdjust="spacingAndGlyphs">7</tspan></text>
<text><tspan x="1205.65" y="623.7" textLength="12.35" lengthAdjust="spacingAndGlyphs">8</tspan></text>
<text><tspan x="1233.21" y="623.7" textLength="12.35" lengthAdjust="spacingAndGlyphs">9</tspan></text>
<text><tspan x="1253.79" y="623.7" textLength="24.4" lengthAdjust="spacingAndGlyphs">10</tspan></text>
<text><tspan x="1281.35" y="623.7" textLength="24.4" lengthAdjust="spacingAndGlyphs">11</tspan></text>
<text><tspan x="1308.91" y="623.7" textLength="24.4" lengthAdjust="spacingAndGlyphs">12</tspan></text>
<text><tspan x="1336.47" y="623.7" textLength="24.4" lengthAdjust="spacingAndGlyphs">13</tspan></text>
<text><tspan x="1364.03" y="623.7" textLength="24.4" lengthAdjust="spacingAndGlyphs">14</tspan></text>
<text><tspan x="1391.59" y="623.7" textLength="24.4" lengthAdjust="spacingAndGlyphs">15</tspan></text>
<text><tspan x="1419.15" y="623.7" textLength="24.4" lengthAdjust="spacingAndGlyphs">16</tspan></text>
<text><tspan x="1446.71" y="623.7" textLength="24.4" lengthAdjust="spacingAndGlyphs">17</tspan></text>
<text><tspan x="1474.27" y="623.7" textLength="24.4" lengthAdjust="spacingAndGlyphs">18</tspan></text>
<text><tspan x="1501.83" y="623.7" textLength="24.4" lengthAdjust="spacingAndGlyphs">19</tspan></text>
<text><tspan x="1529.39" y="623.7" textLength="24.4" lengthAdjust="spacingAndGlyphs">20</tspan></text>
<text><tspan x="1556.95" y="623.7" textLength="24.4" lengthAdjust="spacingAndGlyphs">21</tspan></text>
<text><tspan x="1584.51" y="623.7" textLength="24.4" lengthAdjust="spacingAndGlyphs">22</tspan></text>
<text><tspan x="1612.07" y="623.7" textLength="24.4" lengthAdjust="spacingAndGlyphs">23</tspan></text>
<text><tspan x="1639.63" y="623.7" textLength="24.4" lengthAdjust="spacingAndGlyphs">24</tspan></text>
<text><tspan x="946.45" y="510.45" textLength="17.9" lengthAdjust="spacingAndGlyphs">−</tspan><tspan x="965.45" y="508.7" textLength="12.35" lengthAdjust="spacingAndGlyphs">5</tspan></text>
<text><tspan x="965.45" y="388.4" textLength="12.35" lengthAdjust="spacingAndGlyphs">0</tspan></text>
<text><tspan x="965.45" y="268.1" textLength="12.35" lengthAdjust="spacingAndGlyphs">5</tspan></text>
<text><tspan x="952.3" y="147.8" textLength="24.4" lengthAdjust="spacingAndGlyphs">10</tspan></text>
<text x="1272.3" y="656.1" textLength="128.2" lengthAdjust="spacingAndGlyphs">Number list</text>
<g transform="translate(932.3 365.45) rotate(-90)">
<text><tspan x="0" y="0" textLength="10.2" lengthAdjust="spacingAndGlyphs" font-style="italic">ε</tspan><tspan x="15.4" y="0" textLength="71.1" lengthAdjust="spacingAndGlyphs"> (1E-4)</tspan></text>
</g>
<text x="1267.4" y="27.7" font-size="29" textLength="136.6" lengthAdjust="spacingAndGlyphs">Load:40kN</text>
<path d="M1188.4 74.4L1238.6 74.4" fill="none" stroke="#008000" stroke-width="4.94" stroke-linejoin="round" stroke-linecap="square"/>
<circle cx="1213.5" cy="74.4" r="7.4" fill="#008000" stroke="#008000" stroke-width="2.47"/>
<text x="1257.9" y="83.4" textLength="116.7" lengthAdjust="spacingAndGlyphs">-Test Data</text>
<path d="M1188.4 109.35L1238.6 109.35" fill="none" stroke="#1f77b4" stroke-width="4.94" stroke-linejoin="round" stroke-dasharray="18.28 7.9" stroke-opacity="0.8"/>
<rect x="1206.1" y="101.95" width="14.8" height="14.8" fill="#1f77b4" stroke="#1f77b4" stroke-width="2.47" fill-opacity="0.8" stroke-opacity="0.8"/>
<text x="1257.9" y="118.35" textLength="227.2" lengthAdjust="spacingAndGlyphs">-Kinematic Coupling</text>
<path d="M1188.4 144.3L1238.6 144.3" fill="none" stroke="#ff0000" stroke-width="4.94" stroke-linejoin="round" stroke-dasharray="4.94 8.15" stroke-opacity="0.8"/>
<path d="M1213.5 136.9L1206.1 151.7L1220.9 151.7Z" fill="#ff0000" stroke="#ff0000" stroke-width="2.47" fill-opacity="0.8" stroke-opacity="0.8"/>
<text x="1257.9" y="153.3" textLength="225.1" lengthAdjust="spacingAndGlyphs">-Distribute Coupling</text>
<text x="1322.9" y="720.2" font-size="45" text-anchor="middle" class="cap">(b)</text>
</g>
<g id="chart-c">
<clipPath id="clip-c"><rect x="102" y="844.1" width="697.2" height="554.2"/></clipPath>
<g clip-path="url(#clip-c)">
<path d="M133.6 950.34L161.16 880.89L188.72 895.11L216.28 889.26L243.84 1215.58L271.4 1225.17L298.96 1354.83L326.52 1225.61L354.08 1317.66L381.64 1311.2L409.2 1317.14L436.76 1255.01L464.32 1252.05L491.88 1315.57L519.44 1309.46L547 1318.18L574.56 1356.4L602.12 1231.46L629.68 1208.95L657.24 1205.28L684.8 871.99L712.36 886.12L739.92 869.19L767.48 943.18" fill="none" stroke="#008000" stroke-width="4.94" stroke-linejoin="round" stroke-linecap="square"/>
<circle cx="133.6" cy="950.34" r="7.4" fill="#008000" stroke="#008000" stroke-width="2.47"/>
<circle cx="161.16" cy="880.89" r="7.4" fill="#008000" stroke="#008000" stroke-width="2.47"/>
<circle cx="188.72" cy="895.11" r="7.4" fill="#008000" stroke="#008000" stroke-width="2.47"/>
<circle cx="216.28" cy="889.26" r="7.4" fill="#008000" stroke="#008000" stroke-width="2.47"/>
<circle cx="243.84" cy="1215.58" r="7.4" fill="#008000" stroke="#008000" stroke-width="2.47"/>
<circle cx="271.4" cy="1225.17" r="7.4" fill="#008000" stroke="#008000" stroke-width="2.47"/>
<circle cx="298.96" cy="1354.83" r="7.4" fill="#008000" stroke="#008000" stroke-width="2.47"/>
<circle cx="326.52" cy="1225.61" r="7.4" fill="#008000" stroke="#008000" stroke-width="2.47"/>
<circle cx="354.08" cy="1317.66" r="7.4" fill="#008000" stroke="#008000" stroke-width="2.47"/>
<circle cx="381.64" cy="1311.2" r="7.4" fill="#008000" stroke="#008000" stroke-width="2.47"/>
<circle cx="409.2" cy="1317.14" r="7.4" fill="#008000" stroke="#008000" stroke-width="2.47"/>
<circle cx="436.76" cy="1255.01" r="7.4" fill="#008000" stroke="#008000" stroke-width="2.47"/>
<circle cx="464.32" cy="1252.05" r="7.4" fill="#008000" stroke="#008000" stroke-width="2.47"/>
<circle cx="491.88" cy="1315.57" r="7.4" fill="#008000" stroke="#008000" stroke-width="2.47"/>
<circle cx="519.44" cy="1309.46" r="7.4" fill="#008000" stroke="#008000" stroke-width="2.47"/>
<circle cx="547" cy="1318.18" r="7.4" fill="#008000" stroke="#008000" stroke-width="2.47"/>
<circle cx="574.56" cy="1356.4" r="7.4" fill="#008000" stroke="#008000" stroke-width="2.47"/>
<circle cx="602.12" cy="1231.46" r="7.4" fill="#008000" stroke="#008000" stroke-width="2.47"/>
<circle cx="629.68" cy="1208.95" r="7.4" fill="#008000" stroke="#008000" stroke-width="2.47"/>
<circle cx="657.24" cy="1205.28" r="7.4" fill="#008000" stroke="#008000" stroke-width="2.47"/>
<circle cx="684.8" cy="871.99" r="7.4" fill="#008000" stroke="#008000" stroke-width="2.47"/>
<circle cx="712.36" cy="886.12" r="7.4" fill="#008000" stroke="#008000" stroke-width="2.47"/>
<circle cx="739.92" cy="869.19" r="7.4" fill="#008000" stroke="#008000" stroke-width="2.47"/>
<circle cx="767.48" cy="943.18" r="7.4" fill="#008000" stroke="#008000" stroke-width="2.47"/>
<path d="M133.6 940.04L161.16 873.91L188.72 886.12L216.28 878.97L243.84 975.12L271.4 1343.14L298.96 1271.77L326.52 1228.84L354.08 1319.75L381.64 1308.24L409.2 1321.67L436.76 1262.69L464.32 1253.7L491.88 1314.95L519.44 1308.59L547 1319.75L574.56 1313.65L602.12 1233.03L629.68 1348.37L657.24 1205.02L684.8 870.76L712.36 887.87L739.92 873.73L767.48 931.84" fill="none" stroke="#1f77b4" stroke-width="4.94" stroke-linejoin="round" stroke-dasharray="18.28 7.9" stroke-opacity="0.8"/>
<rect x="126.2" y="932.64" width="14.8" height="14.8" fill="#1f77b4" stroke="#1f77b4" stroke-width="2.47" fill-opacity="0.8" stroke-opacity="0.8"/>
<rect x="153.76" y="866.51" width="14.8" height="14.8" fill="#1f77b4" stroke="#1f77b4" stroke-width="2.47" fill-opacity="0.8" stroke-opacity="0.8"/>
<rect x="181.32" y="878.72" width="14.8" height="14.8" fill="#1f77b4" stroke="#1f77b4" stroke-width="2.47" fill-opacity="0.8" stroke-opacity="0.8"/>
<rect x="208.88" y="871.57" width="14.8" height="14.8" fill="#1f77b4" stroke="#1f77b4" stroke-width="2.47" fill-opacity="0.8" stroke-opacity="0.8"/>
<rect x="236.44" y="967.72" width="14.8" height="14.8" fill="#1f77b4" stroke="#1f77b4" stroke-width="2.47" fill-opacity="0.8" stroke-opacity="0.8"/>
<rect x="264" y="1335.74" width="14.8" height="14.8" fill="#1f77b4" stroke="#1f77b4" stroke-width="2.47" fill-opacity="0.8" stroke-opacity="0.8"/>
<rect x="291.56" y="1264.37" width="14.8" height="14.8" fill="#1f77b4" stroke="#1f77b4" stroke-width="2.47" fill-opacity="0.8" stroke-opacity="0.8"/>
<rect x="319.12" y="1221.44" width="14.8" height="14.8" fill="#1f77b4" stroke="#1f77b4" stroke-width="2.47" fill-opacity="0.8" stroke-opacity="0.8"/>
<rect x="346.68" y="1312.35" width="14.8" height="14.8" fill="#1f77b4" stroke="#1f77b4" stroke-width="2.47" fill-opacity="0.8" stroke-opacity="0.8"/>
<rect x="374.24" y="1300.84" width="14.8" height="14.8" fill="#1f77b4" stroke="#1f77b4" stroke-width="2.47" fill-opacity="0.8" stroke-opacity="0.8"/>
<rect x="401.8" y="1314.27" width="14.8" height="14.8" fill="#1f77b4" stroke="#1f77b4" stroke-width="2.47" fill-opacity="0.8" stroke-opacity="0.8"/>
<rect x="429.36" y="1255.29" width="14.8" height="14.8" fill="#1f77b4" stroke="#1f77b4" stroke-width="2.47" fill-opacity="0.8" stroke-opacity="0.8"/>
<rect x="456.92" y="1246.3" width="14.8" height="14.8" fill="#1f77b4" stroke="#1f77b4" stroke-width="2.47" fill-opacity="0.8" stroke-opacity="0.8"/>
<rect x="484.48" y="1307.55" width="14.8" height="14.8" fill="#1f77b4" stroke="#1f77b4" stroke-width="2.47" fill-opacity="0.8" stroke-opacity="0.8"/>
<rect x="512.04" y="1301.18" width="14.8" height="14.8" fill="#1f77b4" stroke="#1f77b4" stroke-width="2.47" fill-opacity="0.8" stroke-opacity="0.8"/>
<rect x="539.6" y="1312.35" width="14.8" height="14.8" fill="#1f77b4" stroke="#1f77b4" stroke-width="2.47" fill-opacity="0.8" stroke-opacity="0.8"/>
<rect x="567.16" y="1306.25" width="14.8" height="14.8" fill="#1f77b4" stroke="#1f77b4" stroke-width="2.47" fill-opacity="0.8" stroke-opacity="0.8"/>
<rect x="594.72" y="1225.63" width="14.8" height="14.8" fill="#1f77b4" stroke="#1f77b4" stroke-width="2.47" fill-opacity="0.8" stroke-opacity="0.8"/>
<rect x="622.28" y="1340.97" width="14.8" height="14.8" fill="#1f77b4" stroke="#1f77b4" stroke-width="2.47" fill-opacity="0.8" stroke-opacity="0.8"/>
<rect x="649.84" y="1197.62" width="14.8" height="14.8" fill="#1f77b4" stroke="#1f77b4" stroke-width="2.47" fill-opacity="0.8" stroke-opacity="0.8"/>
<rect x="677.4" y="863.36" width="14.8" height="14.8" fill="#1f77b4" stroke="#1f77b4" stroke-width="2.47" fill-opacity="0.8" stroke-opacity="0.8"/>
<rect x="704.96" y="880.47" width="14.8" height="14.8" fill="#1f77b4" stroke="#1f77b4" stroke-width="2.47" fill-opacity="0.8" stroke-opacity="0.8"/>
<rect x="732.52" y="866.33" width="14.8" height="14.8" fill="#1f77b4" stroke="#1f77b4" stroke-width="2.47" fill-opacity="0.8" stroke-opacity="0.8"/>
<rect x="760.08" y="924.44" width="14.8" height="14.8" fill="#1f77b4" stroke="#1f77b4" stroke-width="2.47" fill-opacity="0.8" stroke-opacity="0.8"/>
<path d="M133.6 940.56L161.16 874.08L188.72 877.57L216.28 879.49L243.84 1202.49L271.4 1202.66L298.96 1373.5L326.52 1229.89L354.08 1312.25L381.64 1293.05L409.2 1312.25L436.76 1252.75L464.32 1251.96L491.88 1316L519.44 1294.62L547 1316.87L574.56 1346.8L602.12 1235.12L629.68 1207.72L657.24 1205.89L684.8 881.06L712.36 875.65L739.92 881.06L767.48 940.74" fill="none" stroke="#ff0000" stroke-width="4.94" stroke-linejoin="round" stroke-dasharray="4.94 8.15" stroke-opacity="0.8"/>
<path d="M133.6 933.16L126.2 947.96L141 947.96Z" fill="#ff0000" stroke="#ff0000" stroke-width="2.47" fill-opacity="0.8" stroke-opacity="0.8"/>
<path d="M161.16 866.68L153.76 881.48L168.56 881.48Z" fill="#ff0000" stroke="#ff0000" stroke-width="2.47" fill-opacity="0.8" stroke-opacity="0.8"/>
<path d="M188.72 870.17L181.32 884.97L196.12 884.97Z" fill="#ff0000" stroke="#ff0000" stroke-width="2.47" fill-opacity="0.8" stroke-opacity="0.8"/>
<path d="M216.28 872.09L208.88 886.89L223.68 886.89Z" fill="#ff0000" stroke="#ff0000" stroke-width="2.47" fill-opacity="0.8" stroke-opacity="0.8"/>
<path d="M243.84 1195.09L236.44 1209.89L251.24 1209.89Z" fill="#ff0000" stroke="#ff0000" stroke-width="2.47" fill-opacity="0.8" stroke-opacity="0.8"/>
<path d="M271.4 1195.26L264 1210.06L278.8 1210.06Z" fill="#ff0000" stroke="#ff0000" stroke-width="2.47" fill-opacity="0.8" stroke-opacity="0.8"/>
<path d="M298.96 1366.1L291.56 1380.9L306.36 1380.9Z" fill="#ff0000" stroke="#ff0000" stroke-width="2.47" fill-opacity="0.8" stroke-opacity="0.8"/>
<path d="M326.52 1222.49L319.12 1237.29L333.92 1237.29Z" fill="#ff0000" stroke="#ff0000" stroke-width="2.47" fill-opacity="0.8" stroke-opacity="0.8"/>
<path d="M354.08 1304.85L346.68 1319.65L361.48 1319.65Z" fill="#ff0000" stroke="#ff0000" stroke-width="2.47" fill-opacity="0.8" stroke-opacity="0.8"/>
<path d="M381.64 1285.65L374.24 1300.45L389.04 1300.45Z" fill="#ff0000" stroke="#ff0000" stroke-width="2.47" fill-opacity="0.8" stroke-opacity="0.8"/>
<path d="M409.2 1304.85L401.8 1319.65L416.6 1319.65Z" fill="#ff0000" stroke="#ff0000" stroke-width="2.47" fill-opacity="0.8" stroke-opacity="0.8"/>
<path d="M436.76 1245.35L429.36 1260.15L444.16 1260.15Z" fill="#ff0000" stroke="#ff0000" stroke-width="2.47" fill-opacity="0.8" stroke-opacity="0.8"/>
<path d="M464.32 1244.56L456.92 1259.36L471.72 1259.36Z" fill="#ff0000" stroke="#ff0000" stroke-width="2.47" fill-opacity="0.8" stroke-opacity="0.8"/>
<path d="M491.88 1308.6L484.48 1323.4L499.28 1323.4Z" fill="#ff0000" stroke="#ff0000" stroke-width="2.47" fill-opacity="0.8" stroke-opacity="0.8"/>
<path d="M519.44 1287.22L512.04 1302.03L526.84 1302.03Z" fill="#ff0000" stroke="#ff0000" stroke-width="2.47" fill-opacity="0.8" stroke-opacity="0.8"/>
<path d="M547 1309.47L539.6 1324.27L554.4 1324.27Z" fill="#ff0000" stroke="#ff0000" stroke-width="2.47" fill-opacity="0.8" stroke-opacity="0.8"/>
<path d="M574.56 1339.4L567.16 1354.2L581.96 1354.2Z" fill="#ff0000" stroke="#ff0000" stroke-width="2.47" fill-opacity="0.8" stroke-opacity="0.8"/>
<path d="M602.12 1227.72L594.72 1242.52L609.52 1242.52Z" fill="#ff0000" stroke="#ff0000" stroke-width="2.47" fill-opacity="0.8" stroke-opacity="0.8"/>
<path d="M629.68 1200.32L622.28 1215.12L637.08 1215.12Z" fill="#ff0000" stroke="#ff0000" stroke-width="2.47" fill-opacity="0.8" stroke-opacity="0.8"/>
<path d="M657.24 1198.49L649.84 1213.29L664.64 1213.29Z" fill="#ff0000" stroke="#ff0000" stroke-width="2.47" fill-opacity="0.8" stroke-opacity="0.8"/>
<path d="M684.8 873.66L677.4 888.46L692.2 888.46Z" fill="#ff0000" stroke="#ff0000" stroke-width="2.47" fill-opacity="0.8" stroke-opacity="0.8"/>
<path d="M712.36 868.25L704.96 883.05L719.76 883.05Z" fill="#ff0000" stroke="#ff0000" stroke-width="2.47" fill-opacity="0.8" stroke-opacity="0.8"/>
<path d="M739.92 873.66L732.52 888.46L747.32 888.46Z" fill="#ff0000" stroke="#ff0000" stroke-width="2.47" fill-opacity="0.8" stroke-opacity="0.8"/>
<path d="M767.48 933.34L760.08 948.14L774.88 948.14Z" fill="#ff0000" stroke="#ff0000" stroke-width="2.47" fill-opacity="0.8" stroke-opacity="0.8"/>
</g>
<path d="M133.6 1398.3v-7.4M133.6 844.1v7.4M161.16 1398.3v-7.4M161.16 844.1v7.4M188.72 1398.3v-7.4M188.72 844.1v7.4M216.28 1398.3v-7.4M216.28 844.1v7.4M243.84 1398.3v-7.4M243.84 844.1v7.4M271.4 1398.3v-7.4M271.4 844.1v7.4M298.96 1398.3v-7.4M298.96 844.1v7.4M326.52 1398.3v-7.4M326.52 844.1v7.4M354.08 1398.3v-7.4M354.08 844.1v7.4M381.64 1398.3v-7.4M381.64 844.1v7.4M409.2 1398.3v-7.4M409.2 844.1v7.4M436.76 1398.3v-7.4M436.76 844.1v7.4M464.32 1398.3v-7.4M464.32 844.1v7.4M491.88 1398.3v-7.4M491.88 844.1v7.4M519.44 1398.3v-7.4M519.44 844.1v7.4M547 1398.3v-7.4M547 844.1v7.4M574.56 1398.3v-7.4M574.56 844.1v7.4M602.12 1398.3v-7.4M602.12 844.1v7.4M629.68 1398.3v-7.4M629.68 844.1v7.4M657.24 1398.3v-7.4M657.24 844.1v7.4M684.8 1398.3v-7.4M684.8 844.1v7.4M712.36 1398.3v-7.4M712.36 844.1v7.4M739.92 1398.3v-7.4M739.92 844.1v7.4M767.48 1398.3v-7.4M767.48 844.1v7.4M102 1373.15h7.4M799.2 1373.15h-7.4M102 1285.9h7.4M799.2 1285.9h-7.4M102 1198.65h7.4M799.2 1198.65h-7.4M102 1111.4h7.4M799.2 1111.4h-7.4M102 1024.15h7.4M799.2 1024.15h-7.4M102 936.9h7.4M799.2 936.9h-7.4M102 849.65h7.4M799.2 849.65h-7.4M102 1390.6h3.7M799.2 1390.6h-3.7M102 1355.7h3.7M799.2 1355.7h-3.7M102 1338.25h3.7M799.2 1338.25h-3.7M102 1320.8h3.7M799.2 1320.8h-3.7M102 1303.35h3.7M799.2 1303.35h-3.7M102 1268.45h3.7M799.2 1268.45h-3.7M102 1251h3.7M799.2 1251h-3.7M102 1233.55h3.7M799.2 1233.55h-3.7M102 1216.1h3.7M799.2 1216.1h-3.7M102 1181.2h3.7M799.2 1181.2h-3.7M102 1163.75h3.7M799.2 1163.75h-3.7M102 1146.3h3.7M799.2 1146.3h-3.7M102 1128.85h3.7M799.2 1128.85h-3.7M102 1093.95h3.7M799.2 1093.95h-3.7M102 1076.5h3.7M799.2 1076.5h-3.7M102 1059.05h3.7M799.2 1059.05h-3.7M102 1041.6h3.7M799.2 1041.6h-3.7M102 1006.7h3.7M799.2 1006.7h-3.7M102 989.25h3.7M799.2 989.25h-3.7M102 971.8h3.7M799.2 971.8h-3.7M102 954.35h3.7M799.2 954.35h-3.7M102 919.45h3.7M799.2 919.45h-3.7M102 902h3.7M799.2 902h-3.7M102 884.55h3.7M799.2 884.55h-3.7M102 867.1h3.7M799.2 867.1h-3.7" stroke="#000" stroke-width="1.3" fill="none"/>
<rect x="102" y="844.1" width="697.2" height="554.2" fill="none" stroke="#000" stroke-width="1.5"/>
<text><tspan x="126.23" y="1424.3" textLength="12.35" lengthAdjust="spacingAndGlyphs">1</tspan></text>
<text><tspan x="153.79" y="1424.3" textLength="12.35" lengthAdjust="spacingAndGlyphs">2</tspan></text>
<text><tspan x="181.35" y="1424.3" textLength="12.35" lengthAdjust="spacingAndGlyphs">3</tspan></text>
<text><tspan x="208.91" y="1424.3" textLength="12.35" lengthAdjust="spacingAndGlyphs">4</tspan></text>
<text><tspan x="236.47" y="1424.3" textLength="12.35" lengthAdjust="spacingAndGlyphs">5</tspan></text>
<text><tspan x="264.02" y="1424.3" textLength="12.35" lengthAdjust="spacingAndGlyphs">6</tspan></text>
<text><tspan x="291.58" y="1424.3" textLength="12.35" lengthAdjust="spacingAndGlyphs">7</tspan></text>
<text><tspan x="319.14" y="1424.3" textLength="12.35" lengthAdjust="spacingAndGlyphs">8</tspan></text>
<text><tspan x="346.7" y="1424.3" textLength="12.35" lengthAdjust="spacingAndGlyphs">9</tspan></text>
<text><tspan x="367.29" y="1424.3" textLength="24.4" lengthAdjust="spacingAndGlyphs">10</tspan></text>
<text><tspan x="394.85" y="1424.3" textLength="24.4" lengthAdjust="spacingAndGlyphs">11</tspan></text>
<text><tspan x="422.41" y="1424.3" textLength="24.4" lengthAdjust="spacingAndGlyphs">12</tspan></text>
<text><tspan x="449.97" y="1424.3" textLength="24.4" lengthAdjust="spacingAndGlyphs">13</tspan></text>
<text><tspan x="477.53" y="1424.3" textLength="24.4" lengthAdjust="spacingAndGlyphs">14</tspan></text>
<text><tspan x="505.09" y="1424.3" textLength="24.4" lengthAdjust="spacingAndGlyphs">15</tspan></text>
<text><tspan x="532.65" y="1424.3" textLength="24.4" lengthAdjust="spacingAndGlyphs">16</tspan></text>
<text><tspan x="560.21" y="1424.3" textLength="24.4" lengthAdjust="spacingAndGlyphs">17</tspan></text>
<text><tspan x="587.77" y="1424.3" textLength="24.4" lengthAdjust="spacingAndGlyphs">18</tspan></text>
<text><tspan x="615.33" y="1424.3" textLength="24.4" lengthAdjust="spacingAndGlyphs">19</tspan></text>
<text><tspan x="642.89" y="1424.3" textLength="24.4" lengthAdjust="spacingAndGlyphs">20</tspan></text>
<text><tspan x="670.45" y="1424.3" textLength="24.4" lengthAdjust="spacingAndGlyphs">21</tspan></text>
<text><tspan x="698.01" y="1424.3" textLength="24.4" lengthAdjust="spacingAndGlyphs">22</tspan></text>
<text><tspan x="725.57" y="1424.3" textLength="24.4" lengthAdjust="spacingAndGlyphs">23</tspan></text>
<text><tspan x="753.13" y="1424.3" textLength="24.4" lengthAdjust="spacingAndGlyphs">24</tspan></text>
<text><tspan x="47.6" y="1384" textLength="17.9" lengthAdjust="spacingAndGlyphs">−</tspan><tspan x="65.8" y="1382.25" textLength="24.4" lengthAdjust="spacingAndGlyphs">10</tspan></text>
<text><tspan x="59.95" y="1296.75" textLength="17.9" lengthAdjust="spacingAndGlyphs">−</tspan><tspan x="78.95" y="1295" textLength="12.35" lengthAdjust="spacingAndGlyphs">5</tspan></text>
<text><tspan x="78.95" y="1207.75" textLength="12.35" lengthAdjust="spacingAndGlyphs">0</tspan></text>
<text><tspan x="78.95" y="1120.5" textLength="12.35" lengthAdjust="spacingAndGlyphs">5</tspan></text>
<text><tspan x="65.8" y="1033.25" textLength="24.4" lengthAdjust="spacingAndGlyphs">10</tspan></text>
<text><tspan x="65.8" y="946" textLength="24.4" lengthAdjust="spacingAndGlyphs">15</tspan></text>
<text><tspan x="65.8" y="858.75" textLength="24.4" lengthAdjust="spacingAndGlyphs">20</tspan></text>
<text x="385.7" y="1456.7" textLength="128.2" lengthAdjust="spacingAndGlyphs">Number list</text>
<g transform="translate(33.1 1166.05) rotate(-90)">
<text><tspan x="0" y="0" textLength="10.2" lengthAdjust="spacingAndGlyphs" font-style="italic">ε</tspan><tspan x="15.4" y="0" textLength="71.1" lengthAdjust="spacingAndGlyphs"> (1E-4)</tspan></text>
</g>
<text x="380.8" y="828.3" font-size="29" textLength="136.6" lengthAdjust="spacingAndGlyphs">Load:60kN</text>
<path d="M301.9 875L352.1 875" fill="none" stroke="#008000" stroke-width="4.94" stroke-linejoin="round" stroke-linecap="square"/>
<circle cx="327" cy="875" r="7.4" fill="#008000" stroke="#008000" stroke-width="2.47"/>
<text x="371.4" y="884" textLength="116.7" lengthAdjust="spacingAndGlyphs">-Test Data</text>
<path d="M301.9 909.95L352.1 909.95" fill="none" stroke="#1f77b4" stroke-width="4.94" stroke-linejoin="round" stroke-dasharray="18.28 7.9" stroke-opacity="0.8"/>
<rect x="319.6" y="902.55" width="14.8" height="14.8" fill="#1f77b4" stroke="#1f77b4" stroke-width="2.47" fill-opacity="0.8" stroke-opacity="0.8"/>
<text x="371.4" y="918.95" textLength="227.2" lengthAdjust="spacingAndGlyphs">-Kinematic Coupling</text>
<path d="M301.9 944.9L352.1 944.9" fill="none" stroke="#ff0000" stroke-width="4.94" stroke-linejoin="round" stroke-dasharray="4.94 8.15" stroke-opacity="0.8"/>
<path d="M327 937.5L319.6 952.3L334.4 952.3Z" fill="#ff0000" stroke="#ff0000" stroke-width="2.47" fill-opacity="0.8" stroke-opacity="0.8"/>
<text x="371.4" y="953.9" textLength="225.1" lengthAdjust="spacingAndGlyphs">-Distribute Coupling</text>
<text x="429.4" y="1533.6" font-size="45" text-anchor="middle" class="cap">(c)</text>
</g>
<g id="chart-d">
<clipPath id="clip-d"><rect x="995" y="844.1" width="697.4" height="554.2"/></clipPath>
<g clip-path="url(#clip-d)">
<path d="M1026.5 958.1L1054.06 887.76L1081.62 909.51L1109.18 895.6L1136.74 1259L1164.3 1268.02L1191.86 1350.4L1219.42 1257.35L1246.98 1330.1L1274.54 1324.38L1302.1 1329.34L1329.66 1267.88L1357.22 1263.27L1384.78 1324.93L1412.34 1321.42L1439.9 1329.34L1467.46 1353.01L1495.02 1263.96L1522.58 1245.1L1550.14 1256.52L1577.7 875.37L1605.26 895.12L1632.82 873.17L1660.38 953.97" fill="none" stroke="#008000" stroke-width="4.94" stroke-linejoin="round" stroke-linecap="square"/>
<circle cx="1026.5" cy="958.1" r="7.4" fill="#008000" stroke="#008000" stroke-width="2.47"/>
<circle cx="1054.06" cy="887.76" r="7.4" fill="#008000" stroke="#008000" stroke-width="2.47"/>
<circle cx="1081.62" cy="909.51" r="7.4" fill="#008000" stroke="#008000" stroke-width="2.47"/>
<circle cx="1109.18" cy="895.6" r="7.4" fill="#008000" stroke="#008000" stroke-width="2.47"/>
<circle cx="1136.74" cy="1259" r="7.4" fill="#008000" stroke="#008000" stroke-width="2.47"/>
<circle cx="1164.3" cy="1268.02" r="7.4" fill="#008000" stroke="#008000" stroke-width="2.47"/>
<circle cx="1191.86" cy="1350.4" r="7.4" fill="#008000" stroke="#008000" stroke-width="2.47"/>
<circle cx="1219.42" cy="1257.35" r="7.4" fill="#008000" stroke="#008000" stroke-width="2.47"/>
<circle cx="1246.98" cy="1330.1" r="7.4" fill="#008000" stroke="#008000" stroke-width="2.47"/>
<circle cx="1274.54" cy="1324.38" r="7.4" fill="#008000" stroke="#008000" stroke-width="2.47"/>
<circle cx="1302.1" cy="1329.34" r="7.4" fill="#008000" stroke="#008000" stroke-width="2.47"/>
<circle cx="1329.66" cy="1267.88" r="7.4" fill="#008000" stroke="#008000" stroke-width="2.47"/>
<circle cx="1357.22" cy="1263.27" r="7.4" fill="#008000" stroke="#008000" stroke-width="2.47"/>
<circle cx="1384.78" cy="1324.93" r="7.4" fill="#008000" stroke="#008000" stroke-width="2.47"/>
<circle cx="1412.34" cy="1321.42" r="7.4" fill="#008000" stroke="#008000" stroke-width="2.47"/>
<circle cx="1439.9" cy="1329.34" r="7.4" fill="#008000" stroke="#008000" stroke-width="2.47"/>
<circle cx="1467.46" cy="1353.01" r="7.4" fill="#008000" stroke="#008000" stroke-width="2.47"/>
<circle cx="1495.02" cy="1263.96" r="7.4" fill="#008000" stroke="#008000" stroke-width="2.47"/>
<circle cx="1522.58" cy="1245.1" r="7.4" fill="#008000" stroke="#008000" stroke-width="2.47"/>
<circle cx="1550.14" cy="1256.52" r="7.4" fill="#008000" stroke="#008000" stroke-width="2.47"/>
<circle cx="1577.7" cy="875.37" r="7.4" fill="#008000" stroke="#008000" stroke-width="2.47"/>
<circle cx="1605.26" cy="895.12" r="7.4" fill="#008000" stroke="#008000" stroke-width="2.47"/>
<circle cx="1632.82" cy="873.17" r="7.4" fill="#008000" stroke="#008000" stroke-width="2.47"/>
<circle cx="1660.38" cy="953.97" r="7.4" fill="#008000" stroke="#008000" stroke-width="2.47"/>
<path d="M1026.5 950.53L1054.06 870.41L1081.62 885.69L1109.18 877.57L1136.74 979.29L1164.3 1365.95L1191.86 1291.21L1219.42 1256.38L1246.98 1341.18L1274.54 1327.48L1302.1 1342.62L1329.66 1271.66L1357.22 1261.75L1384.78 1334.09L1412.34 1328.93L1439.9 1338.49L1467.46 1325.21L1495.02 1265.74L1522.58 1370.22L1550.14 1263.54L1577.7 869.45L1605.26 886.79L1632.82 870.69L1660.38 940.89" fill="none" stroke="#1f77b4" stroke-width="4.94" stroke-linejoin="round" stroke-dasharray="18.28 7.9" stroke-opacity="0.8"/>
<rect x="1019.1" y="943.13" width="14.8" height="14.8" fill="#1f77b4" stroke="#1f77b4" stroke-width="2.47" fill-opacity="0.8" stroke-opacity="0.8"/>
<rect x="1046.66" y="863.01" width="14.8" height="14.8" fill="#1f77b4" stroke="#1f77b4" stroke-width="2.47" fill-opacity="0.8" stroke-opacity="0.8"/>
<rect x="1074.22" y="878.29" width="14.8" height="14.8" fill="#1f77b4" stroke="#1f77b4" stroke-width="2.47" fill-opacity="0.8" stroke-opacity="0.8"/>
<rect x="1101.78" y="870.17" width="14.8" height="14.8" fill="#1f77b4" stroke="#1f77b4" stroke-width="2.47" fill-opacity="0.8" stroke-opacity="0.8"/>
<rect x="1129.34" y="971.89" width="14.8" height="14.8" fill="#1f77b4" stroke="#1f77b4" stroke-width="2.47" fill-opacity="0.8" stroke-opacity="0.8"/>
<rect x="1156.9" y="1358.55" width="14.8" height="14.8" fill="#1f77b4" stroke="#1f77b4" stroke-width="2.47" fill-opacity="0.8" stroke-opacity="0.8"/>
<rect x="1184.46" y="1283.81" width="14.8" height="14.8" fill="#1f77b4" stroke="#1f77b4" stroke-width="2.47" fill-opacity="0.8" stroke-opacity="0.8"/>
<rect x="1212.02" y="1248.98" width="14.8" height="14.8" fill="#1f77b4" stroke="#1f77b4" stroke-width="2.47" fill-opacity="0.8" stroke-opacity="0.8"/>
<rect x="1239.58" y="1333.78" width="14.8" height="14.8" fill="#1f77b4" stroke="#1f77b4" stroke-width="2.47" fill-opacity="0.8" stroke-opacity="0.8"/>
<rect x="1267.14" y="1320.08" width="14.8" height="14.8" fill="#1f77b4" stroke="#1f77b4" stroke-width="2.47" fill-opacity="0.8" stroke-opacity="0.8"/>
<rect x="1294.7" y="1335.22" width="14.8" height="14.8" fill="#1f77b4" stroke="#1f77b4" stroke-width="2.47" fill-opacity="0.8" stroke-opacity="0.8"/>
<rect x="1322.26" y="1264.26" width="14.8" height="14.8" fill="#1f77b4" stroke="#1f77b4" stroke-width="2.47" fill-opacity="0.8" stroke-opacity="0.8"/>
<rect x="1349.82" y="1254.35" width="14.8" height="14.8" fill="#1f77b4" stroke="#1f77b4" stroke-width="2.47" fill-opacity="0.8" stroke-opacity="0.8"/>
<rect x="1377.38" y="1326.69" width="14.8" height="14.8" fill="#1f77b4" stroke="#1f77b4" stroke-width="2.47" fill-opacity="0.8" stroke-opacity="0.8"/>
<rect x="1404.94" y="1321.53" width="14.8" height="14.8" fill="#1f77b4" stroke="#1f77b4" stroke-width="2.47" fill-opacity="0.8" stroke-opacity="0.8"/>
<rect x="1432.5" y="1331.09" width="14.8" height="14.8" fill="#1f77b4" stroke="#1f77b4" stroke-width="2.47" fill-opacity="0.8" stroke-opacity="0.8"/>
<rect x="1460.06" y="1317.81" width="14.8" height="14.8" fill="#1f77b4" stroke="#1f77b4" stroke-width="2.47" fill-opacity="0.8" stroke-opacity="0.8"/>
<rect x="1487.62" y="1258.34" width="14.8" height="14.8" fill="#1f77b4" stroke="#1f77b4" stroke-width="2.47" fill-opacity="0.8" stroke-opacity="0.8"/>
<rect x="1515.18" y="1362.82" width="14.8" height="14.8" fill="#1f77b4" stroke="#1f77b4" stroke-width="2.47" fill-opacity="0.8" stroke-opacity="0.8"/>
<rect x="1542.74" y="1256.14" width="14.8" height="14.8" fill="#1f77b4" stroke="#1f77b4" stroke-width="2.47" fill-opacity="0.8" stroke-opacity="0.8"/>
<rect x="1570.3" y="862.05" width="14.8" height="14.8" fill="#1f77b4" stroke="#1f77b4" stroke-width="2.47" fill-opacity="0.8" stroke-opacity="0.8"/>
<rect x="1597.86" y="879.39" width="14.8" height="14.8" fill="#1f77b4" stroke="#1f77b4" stroke-width="2.47" fill-opacity="0.8" stroke-opacity="0.8"/>
<rect x="1625.42" y="863.29" width="14.8" height="14.8" fill="#1f77b4" stroke="#1f77b4" stroke-width="2.47" fill-opacity="0.8" stroke-opacity="0.8"/>
<rect x="1652.98" y="933.49" width="14.8" height="14.8" fill="#1f77b4" stroke="#1f77b4" stroke-width="2.47" fill-opacity="0.8" stroke-opacity="0.8"/>
<path d="M1026.5 946.53L1054.06 883.22L1081.62 881.98L1109.18 881.98L1136.74 1250.74L1164.3 1267.4L1191.86 1373.52L1219.42 1248.13L1246.98 1333.47L1274.54 1317.16L1302.1 1333.47L1329.66 1270.98L1357.22 1268.77L1384.78 1337.18L1412.34 1316.54L1439.9 1337.32L1467.46 1372.29L1495.02 1252.39L1522.58 1234.77L1550.14 1236.98L1577.7 880.46L1605.26 874.82L1632.82 877.71L1660.38 940.89" fill="none" stroke="#ff0000" stroke-width="4.94" stroke-linejoin="round" stroke-dasharray="4.94 8.15" stroke-opacity="0.8"/>
<path d="M1026.5 939.13L1019.1 953.93L1033.9 953.93Z" fill="#ff0000" stroke="#ff0000" stroke-width="2.47" fill-opacity="0.8" stroke-opacity="0.8"/>
<path d="M1054.06 875.82L1046.66 890.62L1061.46 890.62Z" fill="#ff0000" stroke="#ff0000" stroke-width="2.47" fill-opacity="0.8" stroke-opacity="0.8"/>
<path d="M1081.62 874.58L1074.22 889.38L1089.02 889.38Z" fill="#ff0000" stroke="#ff0000" stroke-width="2.47" fill-opacity="0.8" stroke-opacity="0.8"/>
<path d="M1109.18 874.58L1101.78 889.38L1116.58 889.38Z" fill="#ff0000" stroke="#ff0000" stroke-width="2.47" fill-opacity="0.8" stroke-opacity="0.8"/>
<path d="M1136.74 1243.34L1129.34 1258.14L1144.14 1258.14Z" fill="#ff0000" stroke="#ff0000" stroke-width="2.47" fill-opacity="0.8" stroke-opacity="0.8"/>
<path d="M1164.3 1260L1156.9 1274.8L1171.7 1274.8Z" fill="#ff0000" stroke="#ff0000" stroke-width="2.47" fill-opacity="0.8" stroke-opacity="0.8"/>
<path d="M1191.86 1366.12L1184.46 1380.92L1199.26 1380.92Z" fill="#ff0000" stroke="#ff0000" stroke-width="2.47" fill-opacity="0.8" stroke-opacity="0.8"/>
<path d="M1219.42 1240.73L1212.02 1255.53L1226.82 1255.53Z" fill="#ff0000" stroke="#ff0000" stroke-width="2.47" fill-opacity="0.8" stroke-opacity="0.8"/>
<path d="M1246.98 1326.07L1239.58 1340.87L1254.38 1340.87Z" fill="#ff0000" stroke="#ff0000" stroke-width="2.47" fill-opacity="0.8" stroke-opacity="0.8"/>
<path d="M1274.54 1309.76L1267.14 1324.56L1281.94 1324.56Z" fill="#ff0000" stroke="#ff0000" stroke-width="2.47" fill-opacity="0.8" stroke-opacity="0.8"/>
<path d="M1302.1 1326.07L1294.7 1340.87L1309.5 1340.87Z" fill="#ff0000" stroke="#ff0000" stroke-width="2.47" fill-opacity="0.8" stroke-opacity="0.8"/>
<path d="M1329.66 1263.58L1322.26 1278.38L1337.06 1278.38Z" fill="#ff0000" stroke="#ff0000" stroke-width="2.47" fill-opacity="0.8" stroke-opacity="0.8"/>
<path d="M1357.22 1261.37L1349.82 1276.17L1364.62 1276.17Z" fill="#ff0000" stroke="#ff0000" stroke-width="2.47" fill-opacity="0.8" stroke-opacity="0.8"/>
<path d="M1384.78 1329.78L1377.38 1344.59L1392.18 1344.59Z" fill="#ff0000" stroke="#ff0000" stroke-width="2.47" fill-opacity="0.8" stroke-opacity="0.8"/>
<path d="M1412.34 1309.14L1404.94 1323.94L1419.74 1323.94Z" fill="#ff0000" stroke="#ff0000" stroke-width="2.47" fill-opacity="0.8" stroke-opacity="0.8"/>
<path d="M1439.9 1329.92L1432.5 1344.72L1447.3 1344.72Z" fill="#ff0000" stroke="#ff0000" stroke-width="2.47" fill-opacity="0.8" stroke-opacity="0.8"/>
<path d="M1467.46 1364.89L1460.06 1379.69L1474.86 1379.69Z" fill="#ff0000" stroke="#ff0000" stroke-width="2.47" fill-opacity="0.8" stroke-opacity="0.8"/>
<path d="M1495.02 1244.99L1487.62 1259.79L1502.42 1259.79Z" fill="#ff0000" stroke="#ff0000" stroke-width="2.47" fill-opacity="0.8" stroke-opacity="0.8"/>
<path d="M1522.58 1227.37L1515.18 1242.17L1529.98 1242.17Z" fill="#ff0000" stroke="#ff0000" stroke-width="2.47" fill-opacity="0.8" stroke-opacity="0.8"/>
<path d="M1550.14 1229.58L1542.74 1244.38L1557.54 1244.38Z" fill="#ff0000" stroke="#ff0000" stroke-width="2.47" fill-opacity="0.8" stroke-opacity="0.8"/>
<path d="M1577.7 873.06L1570.3 887.86L1585.1 887.86Z" fill="#ff0000" stroke="#ff0000" stroke-width="2.47" fill-opacity="0.8" stroke-opacity="0.8"/>
<path d="M1605.26 867.42L1597.86 882.22L1612.66 882.22Z" fill="#ff0000" stroke="#ff0000" stroke-width="2.47" fill-opacity="0.8" stroke-opacity="0.8"/>
<path d="M1632.82 870.31L1625.42 885.11L1640.22 885.11Z" fill="#ff0000" stroke="#ff0000" stroke-width="2.47" fill-opacity="0.8" stroke-opacity="0.8"/>
<path d="M1660.38 933.49L1652.98 948.29L1667.78 948.29Z" fill="#ff0000" stroke="#ff0000" stroke-width="2.47" fill-opacity="0.8" stroke-opacity="0.8"/>
</g>
<path d="M1026.5 1398.3v-7.4M1026.5 844.1v7.4M1054.06 1398.3v-7.4M1054.06 844.1v7.4M1081.62 1398.3v-7.4M1081.62 844.1v7.4M1109.18 1398.3v-7.4M1109.18 844.1v7.4M1136.74 1398.3v-7.4M1136.74 844.1v7.4M1164.3 1398.3v-7.4M1164.3 844.1v7.4M1191.86 1398.3v-7.4M1191.86 844.1v7.4M1219.42 1398.3v-7.4M1219.42 844.1v7.4M1246.98 1398.3v-7.4M1246.98 844.1v7.4M1274.54 1398.3v-7.4M1274.54 844.1v7.4M1302.1 1398.3v-7.4M1302.1 844.1v7.4M1329.66 1398.3v-7.4M1329.66 844.1v7.4M1357.22 1398.3v-7.4M1357.22 844.1v7.4M1384.78 1398.3v-7.4M1384.78 844.1v7.4M1412.34 1398.3v-7.4M1412.34 844.1v7.4M1439.9 1398.3v-7.4M1439.9 844.1v7.4M1467.46 1398.3v-7.4M1467.46 844.1v7.4M1495.02 1398.3v-7.4M1495.02 844.1v7.4M1522.58 1398.3v-7.4M1522.58 844.1v7.4M1550.14 1398.3v-7.4M1550.14 844.1v7.4M1577.7 1398.3v-7.4M1577.7 844.1v7.4M1605.26 1398.3v-7.4M1605.26 844.1v7.4M1632.82 1398.3v-7.4M1632.82 844.1v7.4M1660.38 1398.3v-7.4M1660.38 844.1v7.4M995 1350.95h7.4M1692.4 1350.95h-7.4M995 1282.12h7.4M1692.4 1282.12h-7.4M995 1213.3h7.4M1692.4 1213.3h-7.4M995 1144.47h7.4M1692.4 1144.47h-7.4M995 1075.65h7.4M1692.4 1075.65h-7.4M995 1006.82h7.4M1692.4 1006.82h-7.4M995 938h7.4M1692.4 938h-7.4M995 869.17h7.4M1692.4 869.17h-7.4M995 1392.24h3.7M1692.4 1392.24h-3.7M995 1378.48h3.7M1692.4 1378.48h-3.7M995 1364.71h3.7M1692.4 1364.71h-3.7M995 1337.18h3.7M1692.4 1337.18h-3.7M995 1323.42h3.7M1692.4 1323.42h-3.7M995 1309.65h3.7M1692.4 1309.65h-3.7M995 1295.89h3.7M1692.4 1295.89h-3.7M995 1268.36h3.7M1692.4 1268.36h-3.7M995 1254.6h3.7M1692.4 1254.6h-3.7M995 1240.83h3.7M1692.4 1240.83h-3.7M995 1227.07h3.7M1692.4 1227.07h-3.7M995 1199.53h3.7M1692.4 1199.53h-3.7M995 1185.77h3.7M1692.4 1185.77h-3.7M995 1172h3.7M1692.4 1172h-3.7M995 1158.24h3.7M1692.4 1158.24h-3.7M995 1130.71h3.7M1692.4 1130.71h-3.7M995 1116.94h3.7M1692.4 1116.94h-3.7M995 1103.18h3.7M1692.4 1103.18h-3.7M995 1089.41h3.7M1692.4 1089.41h-3.7M995 1061.88h3.7M1692.4 1061.88h-3.7M995 1048.12h3.7M1692.4 1048.12h-3.7M995 1034.36h3.7M1692.4 1034.36h-3.7M995 1020.59h3.7M1692.4 1020.59h-3.7M995 993.06h3.7M1692.4 993.06h-3.7M995 979.29h3.7M1692.4 979.29h-3.7M995 965.53h3.7M1692.4 965.53h-3.7M995 951.76h3.7M1692.4 951.76h-3.7M995 924.23h3.7M1692.4 924.23h-3.7M995 910.47h3.7M1692.4 910.47h-3.7M995 896.7h3.7M1692.4 896.7h-3.7M995 882.94h3.7M1692.4 882.94h-3.7M995 855.41h3.7M1692.4 855.41h-3.7" stroke="#000" stroke-width="1.3" fill="none"/>
<rect x="995" y="844.1" width="697.4" height="554.2" fill="none" stroke="#000" stroke-width="1.5"/>
<text><tspan x="1019.12" y="1424.3" textLength="12.35" lengthAdjust="spacingAndGlyphs">1</tspan></text>
<text><tspan x="1046.69" y="1424.3" textLength="12.35" lengthAdjust="spacingAndGlyphs">2</tspan></text>
<text><tspan x="1074.25" y="1424.3" textLength="12.35" lengthAdjust="spacingAndGlyphs">3</tspan></text>
<text><tspan x="1101.81" y="1424.3" textLength="12.35" lengthAdjust="spacingAndGlyphs">4</tspan></text>
<text><tspan x="1129.37" y="1424.3" textLength="12.35" lengthAdjust="spacingAndGlyphs">5</tspan></text>
<text><tspan x="1156.93" y="1424.3" textLength="12.35" lengthAdjust="spacingAndGlyphs">6</tspan></text>
<text><tspan x="1184.49" y="1424.3" textLength="12.35" lengthAdjust="spacingAndGlyphs">7</tspan></text>
<text><tspan x="1212.05" y="1424.3" textLength="12.35" lengthAdjust="spacingAndGlyphs">8</tspan></text>
<text><tspan x="1239.61" y="1424.3" textLength="12.35" lengthAdjust="spacingAndGlyphs">9</tspan></text>
<text><tspan x="1260.19" y="1424.3" textLength="24.4" lengthAdjust="spacingAndGlyphs">10</tspan></text>
<text><tspan x="1287.75" y="1424.3" textLength="24.4" lengthAdjust="spacingAndGlyphs">11</tspan></text>
<text><tspan x="1315.31" y="1424.3" textLength="24.4" lengthAdjust="spacingAndGlyphs">12</tspan></text>
<text><tspan x="1342.87" y="1424.3" textLength="24.4" lengthAdjust="spacingAndGlyphs">13</tspan></text>
<text><tspan x="1370.43" y="1424.3" textLength="24.4" lengthAdjust="spacingAndGlyphs">14</tspan></text>
<text><tspan x="1397.99" y="1424.3" textLength="24.4" lengthAdjust="spacingAndGlyphs">15</tspan></text>
<text><tspan x="1425.55" y="1424.3" textLength="24.4" lengthAdjust="spacingAndGlyphs">16</tspan></text>
<text><tspan x="1453.11" y="1424.3" textLength="24.4" lengthAdjust="spacingAndGlyphs">17</tspan></text>
<text><tspan x="1480.67" y="1424.3" textLength="24.4" lengthAdjust="spacingAndGlyphs">18</tspan></text>
<text><tspan x="1508.23" y="1424.3" textLength="24.4" lengthAdjust="spacingAndGlyphs">19</tspan></text>
<text><tspan x="1535.79" y="1424.3" textLength="24.4" lengthAdjust="spacingAndGlyphs">20</tspan></text>
<text><tspan x="1563.35" y="1424.3" textLength="24.4" lengthAdjust="spacingAndGlyphs">21</tspan></text>
<text><tspan x="1590.91" y="1424.3" textLength="24.4" lengthAdjust="spacingAndGlyphs">22</tspan></text>
<text><tspan x="1618.47" y="1424.3" textLength="24.4" lengthAdjust="spacingAndGlyphs">23</tspan></text>
<text><tspan x="1646.03" y="1424.3" textLength="24.4" lengthAdjust="spacingAndGlyphs">24</tspan></text>
<text><tspan x="940.6" y="1361.8" textLength="17.9" lengthAdjust="spacingAndGlyphs">−</tspan><tspan x="958.8" y="1360.05" textLength="24.4" lengthAdjust="spacingAndGlyphs">10</tspan></text>
<text><tspan x="952.95" y="1292.97" textLength="17.9" lengthAdjust="spacingAndGlyphs">−</tspan><tspan x="971.95" y="1291.22" textLength="12.35" lengthAdjust="spacingAndGlyphs">5</tspan></text>
<text><tspan x="971.95" y="1222.4" textLength="12.35" lengthAdjust="spacingAndGlyphs">0</tspan></text>
<text><tspan x="971.95" y="1153.57" textLength="12.35" lengthAdjust="spacingAndGlyphs">5</tspan></text>
<text><tspan x="958.8" y="1084.75" textLength="24.4" lengthAdjust="spacingAndGlyphs">10</tspan></text>
<text><tspan x="958.8" y="1015.92" textLength="24.4" lengthAdjust="spacingAndGlyphs">15</tspan></text>
<text><tspan x="958.8" y="947.1" textLength="24.4" lengthAdjust="spacingAndGlyphs">20</tspan></text>
<text><tspan x="958.8" y="878.27" textLength="24.4" lengthAdjust="spacingAndGlyphs">25</tspan></text>
<text x="1278.8" y="1456.7" textLength="128.2" lengthAdjust="spacingAndGlyphs">Number list</text>
<g transform="translate(926 1166.05) rotate(-90)">
<text><tspan x="0" y="0" textLength="10.2" lengthAdjust="spacingAndGlyphs" font-style="italic">ε</tspan><tspan x="15.4" y="0" textLength="71.1" lengthAdjust="spacingAndGlyphs"> (1E-4)</tspan></text>
</g>
<text x="1273.9" y="828.3" font-size="29" textLength="136.6" lengthAdjust="spacingAndGlyphs">Load:80kN</text>
<path d="M1194.9 875L1245.1 875" fill="none" stroke="#008000" stroke-width="4.94" stroke-linejoin="round" stroke-linecap="square"/>
<circle cx="1220" cy="875" r="7.4" fill="#008000" stroke="#008000" stroke-width="2.47"/>
<text x="1264.4" y="884" textLength="116.7" lengthAdjust="spacingAndGlyphs">-Test Data</text>
<path d="M1194.9 909.95L1245.1 909.95" fill="none" stroke="#1f77b4" stroke-width="4.94" stroke-linejoin="round" stroke-dasharray="18.28 7.9" stroke-opacity="0.8"/>
<rect x="1212.6" y="902.55" width="14.8" height="14.8" fill="#1f77b4" stroke="#1f77b4" stroke-width="2.47" fill-opacity="0.8" stroke-opacity="0.8"/>
<text x="1264.4" y="918.95" textLength="227.2" lengthAdjust="spacingAndGlyphs">-Kinematic Coupling</text>
<path d="M1194.9 944.9L1245.1 944.9" fill="none" stroke="#ff0000" stroke-width="4.94" stroke-linejoin="round" stroke-dasharray="4.94 8.15" stroke-opacity="0.8"/>
<path d="M1220 937.5L1212.6 952.3L1227.4 952.3Z" fill="#ff0000" stroke="#ff0000" stroke-width="2.47" fill-opacity="0.8" stroke-opacity="0.8"/>
<text x="1264.4" y="953.9" textLength="225.1" lengthAdjust="spacingAndGlyphs">-Distribute Coupling</text>
<text x="1323" y="1533.6" font-size="45" text-anchor="middle" class="cap">(d)</text>
</g>
<g id="chart-e">
<clipPath id="clip-e"><rect x="99.7" y="1636.2" width="733.3" height="582.1"/></clipPath>
<g clip-path="url(#clip-e)">
<path d="M80.9 2209.57L325.3 2039.2L851.7 1570.28L851.7 1672.26L325.3 2039.2L80.9 2256.91Z" fill="#ff0000" fill-opacity="0.2" stroke="#ff0000" stroke-opacity="0.2" stroke-width="2.6" stroke-linejoin="miter"/>
<rect x="409.45" y="1956.94" width="15.56" height="15.56" fill="#1f77b4" stroke="#1f77b4" stroke-width="2.6" fill-opacity="0.5" stroke-opacity="0.5"/>
<rect x="435.77" y="1938.73" width="15.56" height="15.56" fill="#1f77b4" stroke="#1f77b4" stroke-width="2.6" fill-opacity="0.5" stroke-opacity="0.5"/>
<rect x="430.69" y="1947.83" width="15.56" height="15.56" fill="#1f77b4" stroke="#1f77b4" stroke-width="2.6" fill-opacity="0.5" stroke-opacity="0.5"/>
<rect x="431.82" y="1940.07" width="15.56" height="15.56" fill="#1f77b4" stroke="#1f77b4" stroke-width="2.6" fill-opacity="0.5" stroke-opacity="0.5"/>
<rect x="318.83" y="1967.09" width="15.56" height="15.56" fill="#1f77b4" stroke="#1f77b4" stroke-width="2.6" fill-opacity="0.5" stroke-opacity="0.5"/>
<rect x="314.7" y="2064.4" width="15.56" height="15.56" fill="#1f77b4" stroke="#1f77b4" stroke-width="2.6" fill-opacity="0.5" stroke-opacity="0.5"/>
<rect x="253.97" y="2052.46" width="15.56" height="15.56" fill="#1f77b4" stroke="#1f77b4" stroke-width="2.6" fill-opacity="0.5" stroke-opacity="0.5"/>
<rect x="308.12" y="2039.78" width="15.56" height="15.56" fill="#1f77b4" stroke="#1f77b4" stroke-width="2.6" fill-opacity="0.5" stroke-opacity="0.5"/>
<rect x="269.58" y="2066.05" width="15.56" height="15.56" fill="#1f77b4" stroke="#1f77b4" stroke-width="2.6" fill-opacity="0.5" stroke-opacity="0.5"/>
<rect x="273.15" y="2062.31" width="15.56" height="15.56" fill="#1f77b4" stroke="#1f77b4" stroke-width="2.6" fill-opacity="0.5" stroke-opacity="0.5"/>
<rect x="269.95" y="2064.7" width="15.56" height="15.56" fill="#1f77b4" stroke="#1f77b4" stroke-width="2.6" fill-opacity="0.5" stroke-opacity="0.5"/>
<rect x="292.23" y="2049.78" width="15.56" height="15.56" fill="#1f77b4" stroke="#1f77b4" stroke-width="2.6" fill-opacity="0.5" stroke-opacity="0.5"/>
<rect x="295.71" y="2047.31" width="15.56" height="15.56" fill="#1f77b4" stroke="#1f77b4" stroke-width="2.6" fill-opacity="0.5" stroke-opacity="0.5"/>
<rect x="271.55" y="2064.55" width="15.56" height="15.56" fill="#1f77b4" stroke="#1f77b4" stroke-width="2.6" fill-opacity="0.5" stroke-opacity="0.5"/>
<rect x="274.65" y="2062.61" width="15.56" height="15.56" fill="#1f77b4" stroke="#1f77b4" stroke-width="2.6" fill-opacity="0.5" stroke-opacity="0.5"/>
<rect x="270.52" y="2065.97" width="15.56" height="15.56" fill="#1f77b4" stroke="#1f77b4" stroke-width="2.6" fill-opacity="0.5" stroke-opacity="0.5"/>
<rect x="253.32" y="2064.26" width="15.56" height="15.56" fill="#1f77b4" stroke="#1f77b4" stroke-width="2.6" fill-opacity="0.5" stroke-opacity="0.5"/>
<rect x="305.3" y="2041.12" width="15.56" height="15.56" fill="#1f77b4" stroke="#1f77b4" stroke-width="2.6" fill-opacity="0.5" stroke-opacity="0.5"/>
<rect x="317.24" y="2074.06" width="15.56" height="15.56" fill="#1f77b4" stroke="#1f77b4" stroke-width="2.6" fill-opacity="0.5" stroke-opacity="0.5"/>
<rect x="319.4" y="2029.4" width="15.56" height="15.56" fill="#1f77b4" stroke="#1f77b4" stroke-width="2.6" fill-opacity="0.5" stroke-opacity="0.5"/>
<rect x="436.33" y="1938.28" width="15.56" height="15.56" fill="#1f77b4" stroke="#1f77b4" stroke-width="2.6" fill-opacity="0.5" stroke-opacity="0.5"/>
<rect x="434.45" y="1943.35" width="15.56" height="15.56" fill="#1f77b4" stroke="#1f77b4" stroke-width="2.6" fill-opacity="0.5" stroke-opacity="0.5"/>
<rect x="439.34" y="1938.88" width="15.56" height="15.56" fill="#1f77b4" stroke="#1f77b4" stroke-width="2.6" fill-opacity="0.5" stroke-opacity="0.5"/>
<rect x="413.02" y="1955" width="15.56" height="15.56" fill="#1f77b4" stroke="#1f77b4" stroke-width="2.6" fill-opacity="0.5" stroke-opacity="0.5"/>
<rect x="498" y="1884.1" width="15.56" height="15.56" fill="#1f77b4" stroke="#1f77b4" stroke-width="2.6" fill-opacity="0.5" stroke-opacity="0.5"/>
<rect x="549.51" y="1846.19" width="15.56" height="15.56" fill="#1f77b4" stroke="#1f77b4" stroke-width="2.6" fill-opacity="0.5" stroke-opacity="0.5"/>
<rect x="539.55" y="1853.8" width="15.56" height="15.56" fill="#1f77b4" stroke="#1f77b4" stroke-width="2.6" fill-opacity="0.5" stroke-opacity="0.5"/>
<rect x="541.43" y="1849.47" width="15.56" height="15.56" fill="#1f77b4" stroke="#1f77b4" stroke-width="2.6" fill-opacity="0.5" stroke-opacity="0.5"/>
<rect x="313.85" y="1904.17" width="15.56" height="15.56" fill="#1f77b4" stroke="#1f77b4" stroke-width="2.6" fill-opacity="0.5" stroke-opacity="0.5"/>
<rect x="303.79" y="2114.41" width="15.56" height="15.56" fill="#1f77b4" stroke="#1f77b4" stroke-width="2.6" fill-opacity="0.5" stroke-opacity="0.5"/>
<rect x="192.5" y="2073.58" width="15.56" height="15.56" fill="#1f77b4" stroke="#1f77b4" stroke-width="2.6" fill-opacity="0.5" stroke-opacity="0.5"/>
<rect x="299.09" y="2049.18" width="15.56" height="15.56" fill="#1f77b4" stroke="#1f77b4" stroke-width="2.6" fill-opacity="0.5" stroke-opacity="0.5"/>
<rect x="223.52" y="2098.29" width="15.56" height="15.56" fill="#1f77b4" stroke="#1f77b4" stroke-width="2.6" fill-opacity="0.5" stroke-opacity="0.5"/>
<rect x="229.91" y="2093.66" width="15.56" height="15.56" fill="#1f77b4" stroke="#1f77b4" stroke-width="2.6" fill-opacity="0.5" stroke-opacity="0.5"/>
<rect x="224.18" y="2101.87" width="15.56" height="15.56" fill="#1f77b4" stroke="#1f77b4" stroke-width="2.6" fill-opacity="0.5" stroke-opacity="0.5"/>
<rect x="267.89" y="2068.58" width="15.56" height="15.56" fill="#1f77b4" stroke="#1f77b4" stroke-width="2.6" fill-opacity="0.5" stroke-opacity="0.5"/>
<rect x="276.72" y="2063.36" width="15.56" height="15.56" fill="#1f77b4" stroke="#1f77b4" stroke-width="2.6" fill-opacity="0.5" stroke-opacity="0.5"/>
<rect x="229.72" y="2097.84" width="15.56" height="15.56" fill="#1f77b4" stroke="#1f77b4" stroke-width="2.6" fill-opacity="0.5" stroke-opacity="0.5"/>
<rect x="234.23" y="2094.7" width="15.56" height="15.56" fill="#1f77b4" stroke="#1f77b4" stroke-width="2.6" fill-opacity="0.5" stroke-opacity="0.5"/>
<rect x="227.65" y="2100.38" width="15.56" height="15.56" fill="#1f77b4" stroke="#1f77b4" stroke-width="2.6" fill-opacity="0.5" stroke-opacity="0.5"/>
<rect x="198.89" y="2097.54" width="15.56" height="15.56" fill="#1f77b4" stroke="#1f77b4" stroke-width="2.6" fill-opacity="0.5" stroke-opacity="0.5"/>
<rect x="295.9" y="2047.99" width="15.56" height="15.56" fill="#1f77b4" stroke="#1f77b4" stroke-width="2.6" fill-opacity="0.5" stroke-opacity="0.5"/>
<rect x="308.49" y="2114.48" width="15.56" height="15.56" fill="#1f77b4" stroke="#1f77b4" stroke-width="2.6" fill-opacity="0.5" stroke-opacity="0.5"/>
<rect x="313.29" y="2035.22" width="15.56" height="15.56" fill="#1f77b4" stroke="#1f77b4" stroke-width="2.6" fill-opacity="0.5" stroke-opacity="0.5"/>
<rect x="554.4" y="1844.84" width="15.56" height="15.56" fill="#1f77b4" stroke="#1f77b4" stroke-width="2.6" fill-opacity="0.5" stroke-opacity="0.5"/>
<rect x="550.26" y="1855.14" width="15.56" height="15.56" fill="#1f77b4" stroke="#1f77b4" stroke-width="2.6" fill-opacity="0.5" stroke-opacity="0.5"/>
<rect x="560.6" y="1846.34" width="15.56" height="15.56" fill="#1f77b4" stroke="#1f77b4" stroke-width="2.6" fill-opacity="0.5" stroke-opacity="0.5"/>
<rect x="507.21" y="1867.23" width="15.56" height="15.56" fill="#1f77b4" stroke="#1f77b4" stroke-width="2.6" fill-opacity="0.5" stroke-opacity="0.5"/>
<rect x="585.04" y="1810.21" width="15.56" height="15.56" fill="#1f77b4" stroke="#1f77b4" stroke-width="2.6" fill-opacity="0.5" stroke-opacity="0.5"/>
<rect x="659.87" y="1753.65" width="15.56" height="15.56" fill="#1f77b4" stroke="#1f77b4" stroke-width="2.6" fill-opacity="0.5" stroke-opacity="0.5"/>
<rect x="644.54" y="1764.09" width="15.56" height="15.56" fill="#1f77b4" stroke="#1f77b4" stroke-width="2.6" fill-opacity="0.5" stroke-opacity="0.5"/>
<rect x="650.84" y="1757.97" width="15.56" height="15.56" fill="#1f77b4" stroke="#1f77b4" stroke-width="2.6" fill-opacity="0.5" stroke-opacity="0.5"/>
<rect x="299.28" y="1840.22" width="15.56" height="15.56" fill="#1f77b4" stroke="#1f77b4" stroke-width="2.6" fill-opacity="0.5" stroke-opacity="0.5"/>
<rect x="288.94" y="2155.01" width="15.56" height="15.56" fill="#1f77b4" stroke="#1f77b4" stroke-width="2.6" fill-opacity="0.5" stroke-opacity="0.5"/>
<rect x="149.26" y="2093.96" width="15.56" height="15.56" fill="#1f77b4" stroke="#1f77b4" stroke-width="2.6" fill-opacity="0.5" stroke-opacity="0.5"/>
<rect x="288.47" y="2057.24" width="15.56" height="15.56" fill="#1f77b4" stroke="#1f77b4" stroke-width="2.6" fill-opacity="0.5" stroke-opacity="0.5"/>
<rect x="189.3" y="2135" width="15.56" height="15.56" fill="#1f77b4" stroke="#1f77b4" stroke-width="2.6" fill-opacity="0.5" stroke-opacity="0.5"/>
<rect x="196.26" y="2125.15" width="15.56" height="15.56" fill="#1f77b4" stroke="#1f77b4" stroke-width="2.6" fill-opacity="0.5" stroke-opacity="0.5"/>
<rect x="189.87" y="2136.65" width="15.56" height="15.56" fill="#1f77b4" stroke="#1f77b4" stroke-width="2.6" fill-opacity="0.5" stroke-opacity="0.5"/>
<rect x="256.79" y="2086.2" width="15.56" height="15.56" fill="#1f77b4" stroke="#1f77b4" stroke-width="2.6" fill-opacity="0.5" stroke-opacity="0.5"/>
<rect x="259.99" y="2078.51" width="15.56" height="15.56" fill="#1f77b4" stroke="#1f77b4" stroke-width="2.6" fill-opacity="0.5" stroke-opacity="0.5"/>
<rect x="191.56" y="2130.9" width="15.56" height="15.56" fill="#1f77b4" stroke="#1f77b4" stroke-width="2.6" fill-opacity="0.5" stroke-opacity="0.5"/>
<rect x="198.14" y="2125.45" width="15.56" height="15.56" fill="#1f77b4" stroke="#1f77b4" stroke-width="2.6" fill-opacity="0.5" stroke-opacity="0.5"/>
<rect x="188.74" y="2135" width="15.56" height="15.56" fill="#1f77b4" stroke="#1f77b4" stroke-width="2.6" fill-opacity="0.5" stroke-opacity="0.5"/>
<rect x="147.57" y="2129.78" width="15.56" height="15.56" fill="#1f77b4" stroke="#1f77b4" stroke-width="2.6" fill-opacity="0.5" stroke-opacity="0.5"/>
<rect x="282.17" y="2060.82" width="15.56" height="15.56" fill="#1f77b4" stroke="#1f77b4" stroke-width="2.6" fill-opacity="0.5" stroke-opacity="0.5"/>
<rect x="306.43" y="2159.48" width="15.56" height="15.56" fill="#1f77b4" stroke="#1f77b4" stroke-width="2.6" fill-opacity="0.5" stroke-opacity="0.5"/>
<rect x="310.37" y="2036.87" width="15.56" height="15.56" fill="#1f77b4" stroke="#1f77b4" stroke-width="2.6" fill-opacity="0.5" stroke-opacity="0.5"/>
<rect x="669.45" y="1750.96" width="15.56" height="15.56" fill="#1f77b4" stroke="#1f77b4" stroke-width="2.6" fill-opacity="0.5" stroke-opacity="0.5"/>
<rect x="654.23" y="1765.59" width="15.56" height="15.56" fill="#1f77b4" stroke="#1f77b4" stroke-width="2.6" fill-opacity="0.5" stroke-opacity="0.5"/>
<rect x="672.46" y="1753.5" width="15.56" height="15.56" fill="#1f77b4" stroke="#1f77b4" stroke-width="2.6" fill-opacity="0.5" stroke-opacity="0.5"/>
<rect x="592.75" y="1803.2" width="15.56" height="15.56" fill="#1f77b4" stroke="#1f77b4" stroke-width="2.6" fill-opacity="0.5" stroke-opacity="0.5"/>
<rect x="666.07" y="1746.48" width="15.56" height="15.56" fill="#1f77b4" stroke="#1f77b4" stroke-width="2.6" fill-opacity="0.5" stroke-opacity="0.5"/>
<rect x="762.14" y="1659.61" width="15.56" height="15.56" fill="#1f77b4" stroke="#1f77b4" stroke-width="2.6" fill-opacity="0.5" stroke-opacity="0.5"/>
<rect x="732.43" y="1676.18" width="15.56" height="15.56" fill="#1f77b4" stroke="#1f77b4" stroke-width="2.6" fill-opacity="0.5" stroke-opacity="0.5"/>
<rect x="751.42" y="1667.37" width="15.56" height="15.56" fill="#1f77b4" stroke="#1f77b4" stroke-width="2.6" fill-opacity="0.5" stroke-opacity="0.5"/>
<rect x="255.1" y="1777.68" width="15.56" height="15.56" fill="#1f77b4" stroke="#1f77b4" stroke-width="2.6" fill-opacity="0.5" stroke-opacity="0.5"/>
<rect x="242.79" y="2196.95" width="15.56" height="15.56" fill="#1f77b4" stroke="#1f77b4" stroke-width="2.6" fill-opacity="0.5" stroke-opacity="0.5"/>
<rect x="130.27" y="2115.9" width="15.56" height="15.56" fill="#1f77b4" stroke="#1f77b4" stroke-width="2.6" fill-opacity="0.5" stroke-opacity="0.5"/>
<rect x="257.36" y="2078.14" width="15.56" height="15.56" fill="#1f77b4" stroke="#1f77b4" stroke-width="2.6" fill-opacity="0.5" stroke-opacity="0.5"/>
<rect x="158" y="2170.08" width="15.56" height="15.56" fill="#1f77b4" stroke="#1f77b4" stroke-width="2.6" fill-opacity="0.5" stroke-opacity="0.5"/>
<rect x="165.8" y="2155.23" width="15.56" height="15.56" fill="#1f77b4" stroke="#1f77b4" stroke-width="2.6" fill-opacity="0.5" stroke-opacity="0.5"/>
<rect x="159.03" y="2171.65" width="15.56" height="15.56" fill="#1f77b4" stroke="#1f77b4" stroke-width="2.6" fill-opacity="0.5" stroke-opacity="0.5"/>
<rect x="242.98" y="2094.7" width="15.56" height="15.56" fill="#1f77b4" stroke="#1f77b4" stroke-width="2.6" fill-opacity="0.5" stroke-opacity="0.5"/>
<rect x="249.27" y="2083.96" width="15.56" height="15.56" fill="#1f77b4" stroke="#1f77b4" stroke-width="2.6" fill-opacity="0.5" stroke-opacity="0.5"/>
<rect x="165.05" y="2162.39" width="15.56" height="15.56" fill="#1f77b4" stroke="#1f77b4" stroke-width="2.6" fill-opacity="0.5" stroke-opacity="0.5"/>
<rect x="169.84" y="2156.8" width="15.56" height="15.56" fill="#1f77b4" stroke="#1f77b4" stroke-width="2.6" fill-opacity="0.5" stroke-opacity="0.5"/>
<rect x="159.03" y="2167.17" width="15.56" height="15.56" fill="#1f77b4" stroke="#1f77b4" stroke-width="2.6" fill-opacity="0.5" stroke-opacity="0.5"/>
<rect x="126.7" y="2152.77" width="15.56" height="15.56" fill="#1f77b4" stroke="#1f77b4" stroke-width="2.6" fill-opacity="0.5" stroke-opacity="0.5"/>
<rect x="248.33" y="2088.29" width="15.56" height="15.56" fill="#1f77b4" stroke="#1f77b4" stroke-width="2.6" fill-opacity="0.5" stroke-opacity="0.5"/>
<rect x="274.09" y="2201.57" width="15.56" height="15.56" fill="#1f77b4" stroke="#1f77b4" stroke-width="2.6" fill-opacity="0.5" stroke-opacity="0.5"/>
<rect x="258.49" y="2085.9" width="15.56" height="15.56" fill="#1f77b4" stroke="#1f77b4" stroke-width="2.6" fill-opacity="0.5" stroke-opacity="0.5"/>
<rect x="779.06" y="1658.57" width="15.56" height="15.56" fill="#1f77b4" stroke="#1f77b4" stroke-width="2.6" fill-opacity="0.5" stroke-opacity="0.5"/>
<rect x="752.08" y="1677.37" width="15.56" height="15.56" fill="#1f77b4" stroke="#1f77b4" stroke-width="2.6" fill-opacity="0.5" stroke-opacity="0.5"/>
<rect x="782.07" y="1659.91" width="15.56" height="15.56" fill="#1f77b4" stroke="#1f77b4" stroke-width="2.6" fill-opacity="0.5" stroke-opacity="0.5"/>
<rect x="671.71" y="1736.03" width="15.56" height="15.56" fill="#1f77b4" stroke="#1f77b4" stroke-width="2.6" fill-opacity="0.5" stroke-opacity="0.5"/>
<path d="M417.23 1958.58L409.45 1974.14L425.01 1974.14Z" fill="#ff0000" stroke="#ff0000" stroke-width="2.6" fill-opacity="0.5" stroke-opacity="0.5"/>
<path d="M443.55 1940.82L435.77 1956.38L451.33 1956.38Z" fill="#ff0000" stroke="#ff0000" stroke-width="2.6" fill-opacity="0.5" stroke-opacity="0.5"/>
<path d="M438.48 1939.77L430.69 1955.34L446.26 1955.34Z" fill="#ff0000" stroke="#ff0000" stroke-width="2.6" fill-opacity="0.5" stroke-opacity="0.5"/>
<path d="M439.6 1940.97L431.82 1956.53L447.39 1956.53Z" fill="#ff0000" stroke="#ff0000" stroke-width="2.6" fill-opacity="0.5" stroke-opacity="0.5"/>
<path d="M326.62 2030.37L318.83 2045.94L334.4 2045.94Z" fill="#ff0000" stroke="#ff0000" stroke-width="2.6" fill-opacity="0.5" stroke-opacity="0.5"/>
<path d="M322.48 2031.42L314.7 2046.98L330.26 2046.98Z" fill="#ff0000" stroke="#ff0000" stroke-width="2.6" fill-opacity="0.5" stroke-opacity="0.5"/>
<path d="M261.76 2094.26L253.97 2109.82L269.54 2109.82Z" fill="#ff0000" stroke="#ff0000" stroke-width="2.6" fill-opacity="0.5" stroke-opacity="0.5"/>
<path d="M315.9 2040.37L308.12 2055.94L323.68 2055.94Z" fill="#ff0000" stroke="#ff0000" stroke-width="2.6" fill-opacity="0.5" stroke-opacity="0.5"/>
<path d="M277.36 2064.4L269.58 2079.97L285.14 2079.97Z" fill="#ff0000" stroke="#ff0000" stroke-width="2.6" fill-opacity="0.5" stroke-opacity="0.5"/>
<path d="M280.93 2059.78L273.15 2075.34L288.71 2075.34Z" fill="#ff0000" stroke="#ff0000" stroke-width="2.6" fill-opacity="0.5" stroke-opacity="0.5"/>
<path d="M277.74 2064.4L269.95 2079.97L285.52 2079.97Z" fill="#ff0000" stroke="#ff0000" stroke-width="2.6" fill-opacity="0.5" stroke-opacity="0.5"/>
<path d="M300.01 2047.99L292.23 2063.55L307.8 2063.55Z" fill="#ff0000" stroke="#ff0000" stroke-width="2.6" fill-opacity="0.5" stroke-opacity="0.5"/>
<path d="M303.49 2047.84L295.71 2063.4L311.27 2063.4Z" fill="#ff0000" stroke="#ff0000" stroke-width="2.6" fill-opacity="0.5" stroke-opacity="0.5"/>
<path d="M279.33 2065.6L271.55 2081.16L287.12 2081.16Z" fill="#ff0000" stroke="#ff0000" stroke-width="2.6" fill-opacity="0.5" stroke-opacity="0.5"/>
<path d="M282.44 2058.28L274.65 2073.85L290.22 2073.85Z" fill="#ff0000" stroke="#ff0000" stroke-width="2.6" fill-opacity="0.5" stroke-opacity="0.5"/>
<path d="M278.3 2065.08L270.52 2080.64L286.08 2080.64Z" fill="#ff0000" stroke="#ff0000" stroke-width="2.6" fill-opacity="0.5" stroke-opacity="0.5"/>
<path d="M261.1 2076.27L253.32 2091.83L268.88 2091.83Z" fill="#ff0000" stroke="#ff0000" stroke-width="2.6" fill-opacity="0.5" stroke-opacity="0.5"/>
<path d="M313.08 2040.22L305.3 2055.79L320.86 2055.79Z" fill="#ff0000" stroke="#ff0000" stroke-width="2.6" fill-opacity="0.5" stroke-opacity="0.5"/>
<path d="M325.02 2032.16L317.24 2047.73L332.8 2047.73Z" fill="#ff0000" stroke="#ff0000" stroke-width="2.6" fill-opacity="0.5" stroke-opacity="0.5"/>
<path d="M327.18 2030.97L319.4 2046.53L334.96 2046.53Z" fill="#ff0000" stroke="#ff0000" stroke-width="2.6" fill-opacity="0.5" stroke-opacity="0.5"/>
<path d="M444.12 1940.89L436.33 1956.46L451.9 1956.46Z" fill="#ff0000" stroke="#ff0000" stroke-width="2.6" fill-opacity="0.5" stroke-opacity="0.5"/>
<path d="M442.24 1942.01L434.45 1957.58L450.02 1957.58Z" fill="#ff0000" stroke="#ff0000" stroke-width="2.6" fill-opacity="0.5" stroke-opacity="0.5"/>
<path d="M447.12 1939.62L439.34 1955.19L454.91 1955.19Z" fill="#ff0000" stroke="#ff0000" stroke-width="2.6" fill-opacity="0.5" stroke-opacity="0.5"/>
<path d="M420.8 1956.34L413.02 1971.9L428.59 1971.9Z" fill="#ff0000" stroke="#ff0000" stroke-width="2.6" fill-opacity="0.5" stroke-opacity="0.5"/>
<path d="M505.78 1886.49L498 1902.05L513.56 1902.05Z" fill="#ff0000" stroke="#ff0000" stroke-width="2.6" fill-opacity="0.5" stroke-opacity="0.5"/>
<path d="M557.29 1846.49L549.51 1862.05L565.07 1862.05Z" fill="#ff0000" stroke="#ff0000" stroke-width="2.6" fill-opacity="0.5" stroke-opacity="0.5"/>
<path d="M547.33 1849.47L539.55 1865.03L555.11 1865.03Z" fill="#ff0000" stroke="#ff0000" stroke-width="2.6" fill-opacity="0.5" stroke-opacity="0.5"/>
<path d="M549.21 1849.62L541.43 1865.18L556.99 1865.18Z" fill="#ff0000" stroke="#ff0000" stroke-width="2.6" fill-opacity="0.5" stroke-opacity="0.5"/>
<path d="M321.63 2029.48L313.85 2045.04L329.42 2045.04Z" fill="#ff0000" stroke="#ff0000" stroke-width="2.6" fill-opacity="0.5" stroke-opacity="0.5"/>
<path d="M311.58 2033.13L303.79 2048.7L319.36 2048.7Z" fill="#ff0000" stroke="#ff0000" stroke-width="2.6" fill-opacity="0.5" stroke-opacity="0.5"/>
<path d="M200.28 2151.65L192.5 2167.21L208.06 2167.21Z" fill="#ff0000" stroke="#ff0000" stroke-width="2.6" fill-opacity="0.5" stroke-opacity="0.5"/>
<path d="M306.88 2049.63L299.09 2065.19L314.66 2065.19Z" fill="#ff0000" stroke="#ff0000" stroke-width="2.6" fill-opacity="0.5" stroke-opacity="0.5"/>
<path d="M231.3 2094.85L223.52 2110.42L239.08 2110.42Z" fill="#ff0000" stroke="#ff0000" stroke-width="2.6" fill-opacity="0.5" stroke-opacity="0.5"/>
<path d="M237.69 2086.72L229.91 2102.28L245.47 2102.28Z" fill="#ff0000" stroke="#ff0000" stroke-width="2.6" fill-opacity="0.5" stroke-opacity="0.5"/>
<path d="M231.96 2095.23L224.18 2110.79L239.74 2110.79Z" fill="#ff0000" stroke="#ff0000" stroke-width="2.6" fill-opacity="0.5" stroke-opacity="0.5"/>
<path d="M275.67 2062.61L267.89 2078.18L283.45 2078.18Z" fill="#ff0000" stroke="#ff0000" stroke-width="2.6" fill-opacity="0.5" stroke-opacity="0.5"/>
<path d="M284.5 2061.87L276.72 2077.43L292.29 2077.43Z" fill="#ff0000" stroke="#ff0000" stroke-width="2.6" fill-opacity="0.5" stroke-opacity="0.5"/>
<path d="M237.5 2099.41L229.72 2114.97L245.29 2114.97Z" fill="#ff0000" stroke="#ff0000" stroke-width="2.6" fill-opacity="0.5" stroke-opacity="0.5"/>
<path d="M242.02 2086.5L234.23 2102.06L249.8 2102.06Z" fill="#ff0000" stroke="#ff0000" stroke-width="2.6" fill-opacity="0.5" stroke-opacity="0.5"/>
<path d="M235.44 2099.93L227.65 2115.49L243.22 2115.49Z" fill="#ff0000" stroke="#ff0000" stroke-width="2.6" fill-opacity="0.5" stroke-opacity="0.5"/>
<path d="M206.67 2118.74L198.89 2134.3L214.45 2134.3Z" fill="#ff0000" stroke="#ff0000" stroke-width="2.6" fill-opacity="0.5" stroke-opacity="0.5"/>
<path d="M303.68 2053.51L295.9 2069.07L311.46 2069.07Z" fill="#ff0000" stroke="#ff0000" stroke-width="2.6" fill-opacity="0.5" stroke-opacity="0.5"/>
<path d="M316.28 2037.24L308.49 2052.8L324.06 2052.8Z" fill="#ff0000" stroke="#ff0000" stroke-width="2.6" fill-opacity="0.5" stroke-opacity="0.5"/>
<path d="M321.07 2038.06L313.29 2053.62L328.85 2053.62Z" fill="#ff0000" stroke="#ff0000" stroke-width="2.6" fill-opacity="0.5" stroke-opacity="0.5"/>
<path d="M562.18 1847.98L554.4 1863.54L569.96 1863.54Z" fill="#ff0000" stroke="#ff0000" stroke-width="2.6" fill-opacity="0.5" stroke-opacity="0.5"/>
<path d="M558.04 1847.98L550.26 1863.54L565.83 1863.54Z" fill="#ff0000" stroke="#ff0000" stroke-width="2.6" fill-opacity="0.5" stroke-opacity="0.5"/>
<path d="M568.38 1849.17L560.6 1864.74L576.17 1864.74Z" fill="#ff0000" stroke="#ff0000" stroke-width="2.6" fill-opacity="0.5" stroke-opacity="0.5"/>
<path d="M514.99 1881.04L507.21 1896.6L522.77 1896.6Z" fill="#ff0000" stroke="#ff0000" stroke-width="2.6" fill-opacity="0.5" stroke-opacity="0.5"/>
<path d="M592.82 1810.66L585.04 1826.23L600.61 1826.23Z" fill="#ff0000" stroke="#ff0000" stroke-width="2.6" fill-opacity="0.5" stroke-opacity="0.5"/>
<path d="M667.65 1753.79L659.87 1769.36L675.43 1769.36Z" fill="#ff0000" stroke="#ff0000" stroke-width="2.6" fill-opacity="0.5" stroke-opacity="0.5"/>
<path d="M652.33 1756.78L644.54 1772.34L660.11 1772.34Z" fill="#ff0000" stroke="#ff0000" stroke-width="2.6" fill-opacity="0.5" stroke-opacity="0.5"/>
<path d="M658.62 1758.42L650.84 1773.99L666.41 1773.99Z" fill="#ff0000" stroke="#ff0000" stroke-width="2.6" fill-opacity="0.5" stroke-opacity="0.5"/>
<path d="M307.06 2034.7L299.28 2050.27L314.85 2050.27Z" fill="#ff0000" stroke="#ff0000" stroke-width="2.6" fill-opacity="0.5" stroke-opacity="0.5"/>
<path d="M296.72 2034.85L288.94 2050.41L304.51 2050.41Z" fill="#ff0000" stroke="#ff0000" stroke-width="2.6" fill-opacity="0.5" stroke-opacity="0.5"/>
<path d="M157.04 2180.98L149.26 2196.54L164.82 2196.54Z" fill="#ff0000" stroke="#ff0000" stroke-width="2.6" fill-opacity="0.5" stroke-opacity="0.5"/>
<path d="M296.25 2058.14L288.47 2073.7L304.04 2073.7Z" fill="#ff0000" stroke="#ff0000" stroke-width="2.6" fill-opacity="0.5" stroke-opacity="0.5"/>
<path d="M197.08 2128.59L189.3 2144.15L204.87 2144.15Z" fill="#ff0000" stroke="#ff0000" stroke-width="2.6" fill-opacity="0.5" stroke-opacity="0.5"/>
<path d="M204.04 2112.17L196.26 2127.73L211.82 2127.73Z" fill="#ff0000" stroke="#ff0000" stroke-width="2.6" fill-opacity="0.5" stroke-opacity="0.5"/>
<path d="M197.65 2128.59L189.87 2144.15L205.43 2144.15Z" fill="#ff0000" stroke="#ff0000" stroke-width="2.6" fill-opacity="0.5" stroke-opacity="0.5"/>
<path d="M264.58 2077.69L256.79 2093.25L272.36 2093.25Z" fill="#ff0000" stroke="#ff0000" stroke-width="2.6" fill-opacity="0.5" stroke-opacity="0.5"/>
<path d="M267.77 2077.02L259.99 2092.58L275.55 2092.58Z" fill="#ff0000" stroke="#ff0000" stroke-width="2.6" fill-opacity="0.5" stroke-opacity="0.5"/>
<path d="M199.34 2131.8L191.56 2147.36L207.12 2147.36Z" fill="#ff0000" stroke="#ff0000" stroke-width="2.6" fill-opacity="0.5" stroke-opacity="0.5"/>
<path d="M205.92 2113.51L198.14 2129.07L213.7 2129.07Z" fill="#ff0000" stroke="#ff0000" stroke-width="2.6" fill-opacity="0.5" stroke-opacity="0.5"/>
<path d="M196.52 2132.54L188.74 2148.11L204.3 2148.11Z" fill="#ff0000" stroke="#ff0000" stroke-width="2.6" fill-opacity="0.5" stroke-opacity="0.5"/>
<path d="M155.35 2158.14L147.57 2173.7L163.13 2173.7Z" fill="#ff0000" stroke="#ff0000" stroke-width="2.6" fill-opacity="0.5" stroke-opacity="0.5"/>
<path d="M289.96 2062.61L282.17 2078.18L297.74 2078.18Z" fill="#ff0000" stroke="#ff0000" stroke-width="2.6" fill-opacity="0.5" stroke-opacity="0.5"/>
<path d="M314.21 2039.18L306.43 2054.74L321.99 2054.74Z" fill="#ff0000" stroke="#ff0000" stroke-width="2.6" fill-opacity="0.5" stroke-opacity="0.5"/>
<path d="M318.16 2037.61L310.37 2053.18L325.94 2053.18Z" fill="#ff0000" stroke="#ff0000" stroke-width="2.6" fill-opacity="0.5" stroke-opacity="0.5"/>
<path d="M677.24 1759.76L669.45 1775.33L685.02 1775.33Z" fill="#ff0000" stroke="#ff0000" stroke-width="2.6" fill-opacity="0.5" stroke-opacity="0.5"/>
<path d="M662.01 1755.14L654.23 1770.7L669.79 1770.7Z" fill="#ff0000" stroke="#ff0000" stroke-width="2.6" fill-opacity="0.5" stroke-opacity="0.5"/>
<path d="M680.24 1759.76L672.46 1775.33L688.03 1775.33Z" fill="#ff0000" stroke="#ff0000" stroke-width="2.6" fill-opacity="0.5" stroke-opacity="0.5"/>
<path d="M600.53 1810.81L592.75 1826.38L608.31 1826.38Z" fill="#ff0000" stroke="#ff0000" stroke-width="2.6" fill-opacity="0.5" stroke-opacity="0.5"/>
<path d="M673.85 1742.15L666.07 1757.72L681.63 1757.72Z" fill="#ff0000" stroke="#ff0000" stroke-width="2.6" fill-opacity="0.5" stroke-opacity="0.5"/>
<path d="M769.92 1673.49L762.14 1689.06L777.7 1689.06Z" fill="#ff0000" stroke="#ff0000" stroke-width="2.6" fill-opacity="0.5" stroke-opacity="0.5"/>
<path d="M740.22 1672.15L732.43 1687.71L748 1687.71Z" fill="#ff0000" stroke="#ff0000" stroke-width="2.6" fill-opacity="0.5" stroke-opacity="0.5"/>
<path d="M759.2 1672.15L751.42 1687.71L766.99 1687.71Z" fill="#ff0000" stroke="#ff0000" stroke-width="2.6" fill-opacity="0.5" stroke-opacity="0.5"/>
<path d="M262.88 2072.02L255.1 2087.58L270.67 2087.58Z" fill="#ff0000" stroke="#ff0000" stroke-width="2.6" fill-opacity="0.5" stroke-opacity="0.5"/>
<path d="M250.57 2090.08L242.79 2105.64L258.35 2105.64Z" fill="#ff0000" stroke="#ff0000" stroke-width="2.6" fill-opacity="0.5" stroke-opacity="0.5"/>
<path d="M138.05 2205.16L130.27 2220.72L145.83 2220.72Z" fill="#ff0000" stroke="#ff0000" stroke-width="2.6" fill-opacity="0.5" stroke-opacity="0.5"/>
<path d="M265.14 2069.18L257.36 2084.74L272.92 2084.74Z" fill="#ff0000" stroke="#ff0000" stroke-width="2.6" fill-opacity="0.5" stroke-opacity="0.5"/>
<path d="M165.78 2161.72L158 2177.29L173.56 2177.29Z" fill="#ff0000" stroke="#ff0000" stroke-width="2.6" fill-opacity="0.5" stroke-opacity="0.5"/>
<path d="M173.58 2144.03L165.8 2159.6L181.37 2159.6Z" fill="#ff0000" stroke="#ff0000" stroke-width="2.6" fill-opacity="0.5" stroke-opacity="0.5"/>
<path d="M166.82 2161.72L159.03 2177.29L174.6 2177.29Z" fill="#ff0000" stroke="#ff0000" stroke-width="2.6" fill-opacity="0.5" stroke-opacity="0.5"/>
<path d="M250.76 2093.96L242.98 2109.52L258.54 2109.52Z" fill="#ff0000" stroke="#ff0000" stroke-width="2.6" fill-opacity="0.5" stroke-opacity="0.5"/>
<path d="M257.06 2091.57L249.27 2107.13L264.84 2107.13Z" fill="#ff0000" stroke="#ff0000" stroke-width="2.6" fill-opacity="0.5" stroke-opacity="0.5"/>
<path d="M172.83 2165.75L165.05 2181.32L180.61 2181.32Z" fill="#ff0000" stroke="#ff0000" stroke-width="2.6" fill-opacity="0.5" stroke-opacity="0.5"/>
<path d="M177.63 2143.36L169.84 2158.93L185.41 2158.93Z" fill="#ff0000" stroke="#ff0000" stroke-width="2.6" fill-opacity="0.5" stroke-opacity="0.5"/>
<path d="M166.82 2165.9L159.03 2181.47L174.6 2181.47Z" fill="#ff0000" stroke="#ff0000" stroke-width="2.6" fill-opacity="0.5" stroke-opacity="0.5"/>
<path d="M134.48 2203.81L126.7 2219.38L142.26 2219.38Z" fill="#ff0000" stroke="#ff0000" stroke-width="2.6" fill-opacity="0.5" stroke-opacity="0.5"/>
<path d="M256.12 2073.81L248.33 2089.37L263.9 2089.37Z" fill="#ff0000" stroke="#ff0000" stroke-width="2.6" fill-opacity="0.5" stroke-opacity="0.5"/>
<path d="M281.87 2054.7L274.09 2070.27L289.65 2070.27Z" fill="#ff0000" stroke="#ff0000" stroke-width="2.6" fill-opacity="0.5" stroke-opacity="0.5"/>
<path d="M266.27 2057.09L258.49 2072.65L274.05 2072.65Z" fill="#ff0000" stroke="#ff0000" stroke-width="2.6" fill-opacity="0.5" stroke-opacity="0.5"/>
<path d="M786.84 1670.51L779.06 1686.07L794.62 1686.07Z" fill="#ff0000" stroke="#ff0000" stroke-width="2.6" fill-opacity="0.5" stroke-opacity="0.5"/>
<path d="M759.86 1664.39L752.08 1679.95L767.64 1679.95Z" fill="#ff0000" stroke="#ff0000" stroke-width="2.6" fill-opacity="0.5" stroke-opacity="0.5"/>
<path d="M789.85 1667.52L782.07 1683.09L797.63 1683.09Z" fill="#ff0000" stroke="#ff0000" stroke-width="2.6" fill-opacity="0.5" stroke-opacity="0.5"/>
<path d="M679.49 1736.03L671.71 1751.6L687.27 1751.6Z" fill="#ff0000" stroke="#ff0000" stroke-width="2.6" fill-opacity="0.5" stroke-opacity="0.5"/>
<path d="M99.7 2218.31L832.9 1636.2" fill="none" stroke="#000" stroke-width="2.67" stroke-linejoin="round" stroke-dasharray="9.89 4.28" stroke-dashoffset="0.8"/>
</g>
<path d="M137.3 2218.3v-7.78M137.3 1636.2v7.78M231.3 2218.3v-7.78M231.3 1636.2v7.78M325.3 2218.3v-7.78M325.3 1636.2v7.78M419.3 2218.3v-7.78M419.3 1636.2v7.78M513.3 2218.3v-7.78M513.3 1636.2v7.78M607.3 2218.3v-7.78M607.3 1636.2v7.78M701.3 2218.3v-7.78M701.3 1636.2v7.78M795.3 2218.3v-7.78M795.3 1636.2v7.78M118.5 2218.3v-3.89M118.5 1636.2v3.89M156.1 2218.3v-3.89M156.1 1636.2v3.89M174.9 2218.3v-3.89M174.9 1636.2v3.89M193.7 2218.3v-3.89M193.7 1636.2v3.89M212.5 2218.3v-3.89M212.5 1636.2v3.89M250.1 2218.3v-3.89M250.1 1636.2v3.89M268.9 2218.3v-3.89M268.9 1636.2v3.89M287.7 2218.3v-3.89M287.7 1636.2v3.89M306.5 2218.3v-3.89M306.5 1636.2v3.89M344.1 2218.3v-3.89M344.1 1636.2v3.89M362.9 2218.3v-3.89M362.9 1636.2v3.89M381.7 2218.3v-3.89M381.7 1636.2v3.89M400.5 2218.3v-3.89M400.5 1636.2v3.89M438.1 2218.3v-3.89M438.1 1636.2v3.89M456.9 2218.3v-3.89M456.9 1636.2v3.89M475.7 2218.3v-3.89M475.7 1636.2v3.89M494.5 2218.3v-3.89M494.5 1636.2v3.89M532.1 2218.3v-3.89M532.1 1636.2v3.89M550.9 2218.3v-3.89M550.9 1636.2v3.89M569.7 2218.3v-3.89M569.7 1636.2v3.89M588.5 2218.3v-3.89M588.5 1636.2v3.89M626.1 2218.3v-3.89M626.1 1636.2v3.89M644.9 2218.3v-3.89M644.9 1636.2v3.89M663.7 2218.3v-3.89M663.7 1636.2v3.89M682.5 2218.3v-3.89M682.5 1636.2v3.89M720.1 2218.3v-3.89M720.1 1636.2v3.89M738.9 2218.3v-3.89M738.9 1636.2v3.89M757.7 2218.3v-3.89M757.7 1636.2v3.89M776.5 2218.3v-3.89M776.5 1636.2v3.89M814.1 2218.3v-3.89M814.1 1636.2v3.89M99.7 2188.46h7.78M833 2188.46h-7.78M99.7 2113.83h7.78M833 2113.83h-7.78M99.7 2039.2h7.78M833 2039.2h-7.78M99.7 1964.57h7.78M833 1964.57h-7.78M99.7 1889.94h7.78M833 1889.94h-7.78M99.7 1815.31h7.78M833 1815.31h-7.78M99.7 1740.68h7.78M833 1740.68h-7.78M99.7 1666.05h7.78M833 1666.05h-7.78M99.7 2203.39h3.89M833 2203.39h-3.89M99.7 2173.53h3.89M833 2173.53h-3.89M99.7 2158.61h3.89M833 2158.61h-3.89M99.7 2143.68h3.89M833 2143.68h-3.89M99.7 2128.76h3.89M833 2128.76h-3.89M99.7 2098.9h3.89M833 2098.9h-3.89M99.7 2083.98h3.89M833 2083.98h-3.89M99.7 2069.05h3.89M833 2069.05h-3.89M99.7 2054.13h3.89M833 2054.13h-3.89M99.7 2024.27h3.89M833 2024.27h-3.89M99.7 2009.35h3.89M833 2009.35h-3.89M99.7 1994.42h3.89M833 1994.42h-3.89M99.7 1979.5h3.89M833 1979.5h-3.89M99.7 1949.64h3.89M833 1949.64h-3.89M99.7 1934.72h3.89M833 1934.72h-3.89M99.7 1919.79h3.89M833 1919.79h-3.89M99.7 1904.87h3.89M833 1904.87h-3.89M99.7 1875.01h3.89M833 1875.01h-3.89M99.7 1860.09h3.89M833 1860.09h-3.89M99.7 1845.16h3.89M833 1845.16h-3.89M99.7 1830.24h3.89M833 1830.24h-3.89M99.7 1800.38h3.89M833 1800.38h-3.89M99.7 1785.46h3.89M833 1785.46h-3.89M99.7 1770.53h3.89M833 1770.53h-3.89M99.7 1755.61h3.89M833 1755.61h-3.89M99.7 1725.75h3.89M833 1725.75h-3.89M99.7 1710.83h3.89M833 1710.83h-3.89M99.7 1695.9h3.89M833 1695.9h-3.89M99.7 1680.98h3.89M833 1680.98h-3.89M99.7 1651.12h3.89M833 1651.12h-3.89" stroke="#000" stroke-width="1.37" fill="none"/>
<rect x="99.7" y="1636.2" width="733.3" height="582.1" fill="none" stroke="#000" stroke-width="1.58"/>
<text font-size="26.75"><tspan x="112.44" y="2247.7" textLength="19.39" lengthAdjust="spacingAndGlyphs">−</tspan><tspan x="132.16" y="2245.8" textLength="26.43" lengthAdjust="spacingAndGlyphs">10</tspan></text>
<text font-size="26.75"><tspan x="42.46" y="2199.56" textLength="19.39" lengthAdjust="spacingAndGlyphs">−</tspan><tspan x="62.17" y="2197.66" textLength="26.43" lengthAdjust="spacingAndGlyphs">10</tspan></text>
<text font-size="26.75"><tspan x="213.13" y="2247.7" textLength="19.39" lengthAdjust="spacingAndGlyphs">−</tspan><tspan x="233.71" y="2245.8" textLength="13.38" lengthAdjust="spacingAndGlyphs">5</tspan></text>
<text font-size="26.75"><tspan x="54.83" y="2124.93" textLength="19.39" lengthAdjust="spacingAndGlyphs">−</tspan><tspan x="75.41" y="2123.03" textLength="13.38" lengthAdjust="spacingAndGlyphs">5</tspan></text>
<text font-size="26.75"><tspan x="317.31" y="2245.8" textLength="13.38" lengthAdjust="spacingAndGlyphs">0</tspan></text>
<text font-size="26.75"><tspan x="75.41" y="2048.4" textLength="13.38" lengthAdjust="spacingAndGlyphs">0</tspan></text>
<text font-size="26.75"><tspan x="411.31" y="2245.8" textLength="13.38" lengthAdjust="spacingAndGlyphs">5</tspan></text>
<text font-size="26.75"><tspan x="75.41" y="1973.77" textLength="13.38" lengthAdjust="spacingAndGlyphs">5</tspan></text>
<text font-size="26.75"><tspan x="497.76" y="2245.8" textLength="26.43" lengthAdjust="spacingAndGlyphs">10</tspan></text>
<text font-size="26.75"><tspan x="62.17" y="1899.14" textLength="26.43" lengthAdjust="spacingAndGlyphs">10</tspan></text>
<text font-size="26.75"><tspan x="591.76" y="2245.8" textLength="26.43" lengthAdjust="spacingAndGlyphs">15</tspan></text>
<text font-size="26.75"><tspan x="62.17" y="1824.51" textLength="26.43" lengthAdjust="spacingAndGlyphs">15</tspan></text>
<text font-size="26.75"><tspan x="685.76" y="2245.8" textLength="26.43" lengthAdjust="spacingAndGlyphs">20</tspan></text>
<text font-size="26.75"><tspan x="62.17" y="1749.88" textLength="26.43" lengthAdjust="spacingAndGlyphs">20</tspan></text>
<text font-size="26.75"><tspan x="779.76" y="2245.8" textLength="26.43" lengthAdjust="spacingAndGlyphs">25</tspan></text>
<text font-size="26.75"><tspan x="62.17" y="1675.25" textLength="26.43" lengthAdjust="spacingAndGlyphs">25</tspan></text>
<text font-size="25.97"><tspan x="396" y="2282" textLength="11" lengthAdjust="spacingAndGlyphs" font-style="italic">ε</tspan><tspan x="410.3" y="2285.9" font-size="18.18" textLength="40.5" lengthAdjust="spacingAndGlyphs" font-style="italic">Test</tspan><tspan x="456.5" y="2282" textLength="76.3" lengthAdjust="spacingAndGlyphs"> (1E-4)</tspan></text>
<g transform="translate(26.9 2030.4) rotate(-90)">
<text font-size="25.97"><tspan x="0" y="0" textLength="10.73" lengthAdjust="spacingAndGlyphs" font-style="italic">ε</tspan><tspan x="12.4" y="4.1" font-size="18.18" textLength="108.4" lengthAdjust="spacingAndGlyphs" font-style="italic">Simulation</tspan><tspan x="127.3" y="0" textLength="73.9" lengthAdjust="spacingAndGlyphs"> (1E-4)</tspan></text>
</g>
<path d="M309.8 1668.1L361.8 1668.1" fill="none" stroke="#000" stroke-width="2.67" stroke-linejoin="round" stroke-dasharray="9.89 4.28"/>
<text x="382.8" y="1677.5" font-size="25.97" textLength="123" lengthAdjust="spacingAndGlyphs">-Test Data</text>
<rect x="310.5" y="1697.9" width="51.5" height="17.5" fill="#ff0000" fill-opacity="0.2" stroke="#ff0000" stroke-opacity="0.2" stroke-width="2.6"/>
<text x="382.8" y="1715.8" font-size="25.97" textLength="192.8" lengthAdjust="spacingAndGlyphs">-10% error range</text>
<rect x="328.52" y="1737.52" width="15.56" height="15.56" fill="#1f77b4" stroke="#1f77b4" stroke-width="2.6" fill-opacity="0.5" stroke-opacity="0.5"/>
<text x="382.8" y="1753" font-size="25.97" textLength="238.7" lengthAdjust="spacingAndGlyphs">-Kinematic Coupling</text>
<path d="M336.3 1774.62L328.52 1790.18L344.08 1790.18Z" fill="#ff0000" stroke="#ff0000" stroke-width="2.6" fill-opacity="0.5" stroke-opacity="0.5"/>
<text x="382.8" y="1789.7" font-size="25.97" textLength="236.6" lengthAdjust="spacingAndGlyphs">-Distribute Coupling</text>
<text x="443.4" y="2348.2" font-size="45" text-anchor="middle" class="cap">(e)</text>
</g>
</svg>
</body>
</html>
